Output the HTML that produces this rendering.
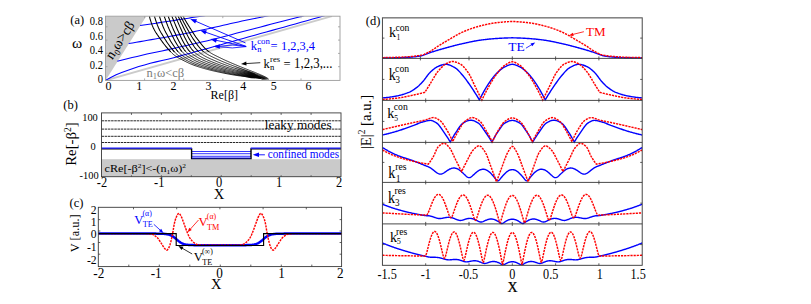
<!DOCTYPE html>
<html><head><meta charset="utf-8"><title>figure</title>
<style>
html,body{margin:0;padding:0;background:#fff;}
body{width:811px;height:304px;overflow:hidden;font-family:"Liberation Serif",serif;}
svg{display:block;position:absolute;left:0;top:0;}
</style></head><body>
<svg width="811" height="304" viewBox="0 0 811 304" font-family="'Liberation Serif', serif">
<clipPath id="ca"><rect x="105.5" y="16.2" width="234.5" height="64.2"/></clipPath>
<g clip-path="url(#ca)">
<polygon points="105.5,80.4 105.5,16.2 146.3,16.2" fill="#cacaca"/>
<line x1="105.5" y1="80.4" x2="332" y2="16.2" stroke="#cbcbcb" stroke-width="1.9" />
<path d="M105.5 80.4 L110.74 77.44 L116.15 74.84 L121.69 72.52 L127.32 70.41 L133.01 68.45 L138.73 66.62 L144.5 64.91 L150.29 63.32 L156.12 61.87 L161.98 60.51 L167.83 59.14 L173.66 57.66 L179.47 56.13 L185.27 54.56 L191.06 52.96 L196.86 51.36 L202.65 49.77 L208.44 48.17 L214.23 46.55 L220.02 44.93 L225.81 43.3 L231.59 41.67 L237.38 40.04 L243.16 38.41 L248.95 36.79 L254.74 35.18 L260.53 33.57 L266.32 31.97 L272.11 30.37 L277.91 28.76 L283.7 27.15 L289.49 25.54 L295.28 23.92 L301.06 22.3 L306.85 20.67 L312.63 19.05 L318.42 17.42 L324.21 15.81 L330 14.2" fill="none" stroke="#0000ff" stroke-width="1.05" />
<path d="M117.3 61.2 L122.24 59.98 L127.18 58.78 L132.13 57.59 L137.08 56.41 L142.03 55.23 L146.98 54.08 L151.95 52.97 L156.92 51.92 L161.91 50.9 L166.89 49.87 L171.86 48.79 L176.83 47.69 L181.79 46.58 L186.75 45.45 L191.71 44.31 L196.67 43.17 L201.62 42.03 L206.58 40.89 L211.53 39.71 L216.47 38.49 L221.4 37.24 L226.32 35.96 L231.24 34.66 L236.16 33.36 L241.08 32.05 L246 30.75 L250.92 29.46 L255.84 28.18 L260.77 26.9 L265.69 25.63 L270.62 24.35 L275.54 23.08 L280.46 21.8 L285.39 20.52 L290.31 19.25 L295.24 17.96 L300.16 16.68 L305.08 15.39 L310 14.1" fill="none" stroke="#0000ff" stroke-width="1.05" />
<path d="M128.7 43.6 L132.5 42.94 L136.29 42.28 L140.09 41.63 L143.88 40.97 L147.68 40.31 L151.47 39.64 L155.27 38.99 L159.06 38.34 L162.86 37.68 L166.65 37.01 L170.44 36.32 L174.23 35.61 L178.01 34.89 L181.79 34.15 L185.57 33.4 L189.35 32.65 L193.12 31.88 L196.9 31.11 L200.67 30.32 L204.44 29.52 L208.2 28.71 L211.96 27.87 L215.72 27.03 L219.48 26.17 L223.23 25.32 L226.99 24.46 L230.75 23.6 L234.5 22.75 L238.26 21.91 L242.02 21.08 L245.79 20.28 L249.56 19.49 L253.34 18.74 L257.12 18.01 L260.91 17.29 L264.69 16.56 L268.46 15.8 L272.23 15.01 L276 14.2" fill="none" stroke="#0000ff" stroke-width="1.05" />
<path d="M140.1 25.5 L141.9 25.25 L143.69 24.99 L145.49 24.73 L147.28 24.47 L149.07 24.21 L150.87 23.95 L152.66 23.69 L154.46 23.43 L156.25 23.16 L158.04 22.89 L159.84 22.62 L161.63 22.35 L163.42 22.08 L165.21 21.81 L167.01 21.53 L168.8 21.25 L170.59 20.97 L172.38 20.69 L174.17 20.41 L175.96 20.13 L177.76 19.85 L179.55 19.57 L181.34 19.29 L183.13 19.01 L184.92 18.73 L186.71 18.44 L188.5 18.16 L190.29 17.88 L192.08 17.59 L193.88 17.31 L195.67 17.02 L197.46 16.74 L199.25 16.46 L201.04 16.18 L202.83 15.9 L204.62 15.62 L206.42 15.35 L208.21 15.07 L210 14.8" fill="none" stroke="#0000ff" stroke-width="1.05" />
<path d="M149.4 16.1 L149.62 17.09 L149.86 18.07 L150.12 19.04 L150.4 20.01 L150.69 20.97 L151 21.92 L151.32 22.87 L151.66 23.81 L152 24.74 L152.36 25.67 L152.75 26.59 L153.16 27.51 L153.6 28.42 L154.05 29.32 L154.52 30.21 L155 31.08 L155.51 31.94 L156.04 32.79 L156.6 33.62 L157.16 34.45 L157.74 35.28 L158.32 36.1 L158.89 36.93 L159.45 37.75 L160.02 38.58 L160.59 39.41 L161.17 40.23 L161.75 41.05 L162.34 41.86 L162.93 42.66 L163.54 43.46 L164.15 44.25 L164.78 45.03 L165.41 45.81 L166.05 46.58 L166.7 47.35 L167.36 48.11 L168.02 48.86 L168.69 49.6 L169.37 50.34 L170.05 51.08 L170.74 51.82" fill="none" stroke="#000" stroke-width="1.05" />
<path d="M169.37 50.34 L170.05 51.08 L170.74 51.82 L171.43 52.55 L172.13 53.27 L172.86 53.96 L173.61 54.61 L174.39 55.22 L175.2 55.81 L176.04 56.38 L176.89 56.92 L177.74 57.45 L178.6 57.95 L179.48 58.44 L180.37 58.91 L181.26 59.37 L182.16 59.82 L183.05 60.28 L183.94 60.73 L184.84 61.19 L185.73 61.64 L186.63 62.09 L187.53 62.53 L188.44 62.95 L189.35 63.36 L190.27 63.75 L191.2 64.14 L192.13 64.52 L193.06 64.89 L194 65.24 L194.94 65.58 L195.89 65.91 L196.84 66.23 L197.79 66.55 L198.74 66.86 L199.7 67.16 L200.65 67.46 L201.62 67.75 L202.58 68.04 L203.54 68.32 L204.51 68.6 L205.47 68.87 L206.44 69.13 L207.41 69.39 L208.38 69.65 L209.35 69.89 L210.32 70.14 L211.29 70.38 L212.26 70.61 L213.24 70.84 L214.22 71.07 L215.2 71.29 L216.18 71.51 L217.16 71.72 L218.14 71.93 L219.12 72.14 L220.1 72.35 L221.08 72.55 L222.06 72.76 L223.04 72.96 L224.02 73.16 L225.01 73.36 L225.99 73.56 L226.98 73.75 L227.96 73.94 L228.94 74.13 L229.93 74.31 L230.92 74.49 L231.9 74.67 L232.89 74.84 L233.88 75 L234.87 75.16 L235.86 75.31 L236.85 75.46 L237.84 75.61 L238.83 75.75 L239.83 75.88 L240.82 76.02 L241.81 76.15 L242.81 76.28 L243.8 76.41 L244.8 76.54 L245.79 76.67 L246.79 76.8 L247.78 76.92 L248.78 77.04 L249.79 77.14 L250.81 77.24 L251.82 77.32 L252.84 77.41 L253.86 77.5 L254.87 77.59 L255.88 77.69 L256.88 77.81 L257.86 77.94 L258.83 78.1 L259.79 78.27 L260.72 78.48 L261.63 78.86 L262.5 79.4" fill="none" stroke="#000" stroke-width="0.85" />
<path d="M154.5 16.1 L154.74 17.04 L155 17.98 L155.28 18.91 L155.56 19.83 L155.85 20.75 L156.16 21.67 L156.47 22.57 L156.79 23.48 L157.12 24.38 L157.45 25.27 L157.81 26.16 L158.19 27.05 L158.58 27.93 L158.99 28.8 L159.41 29.66 L159.83 30.51 L160.28 31.35 L160.75 32.18 L161.24 33 L161.74 33.82 L162.24 34.63 L162.75 35.44 L163.24 36.26 L163.74 37.07 L164.23 37.89 L164.73 38.7 L165.23 39.52 L165.74 40.32 L166.26 41.13 L166.78 41.93 L167.31 42.72 L167.85 43.5 L168.4 44.28 L168.96 45.05 L169.53 45.82 L170.11 46.58 L170.7 47.34 L171.29 48.09 L171.89 48.84 L172.5 49.58 L173.11 50.32 L173.73 51.06 L174.36 51.8" fill="none" stroke="#000" stroke-width="1.05" />
<path d="M173.11 50.32 L173.73 51.06 L174.36 51.8 L175.01 52.52 L175.67 53.21 L176.36 53.87 L177.08 54.49 L177.83 55.09 L178.61 55.66 L179.4 56.22 L180.2 56.75 L181 57.27 L181.83 57.77 L182.67 58.24 L183.52 58.71 L184.37 59.17 L185.23 59.63 L186.09 60.09 L186.95 60.54 L187.82 60.99 L188.69 61.44 L189.58 61.87 L190.47 62.29 L191.37 62.69 L192.27 63.09 L193.18 63.48 L194.09 63.85 L195.01 64.22 L195.93 64.57 L196.86 64.91 L197.78 65.24 L198.71 65.57 L199.65 65.89 L200.58 66.2 L201.52 66.51 L202.46 66.81 L203.4 67.1 L204.34 67.39 L205.28 67.68 L206.23 67.96 L207.18 68.23 L208.12 68.5 L209.07 68.77 L210.02 69.03 L210.97 69.28 L211.92 69.53 L212.88 69.78 L213.83 70.02 L214.79 70.25 L215.75 70.49 L216.71 70.71 L217.66 70.94 L218.62 71.16 L219.59 71.38 L220.55 71.6 L221.51 71.81 L222.47 72.02 L223.43 72.24 L224.39 72.45 L225.36 72.65 L226.32 72.86 L227.28 73.06 L228.25 73.27 L229.21 73.47 L230.18 73.66 L231.14 73.85 L232.11 74.04 L233.08 74.23 L234.04 74.41 L235.01 74.58 L235.98 74.75 L236.95 74.91 L237.92 75.07 L238.89 75.23 L239.86 75.38 L240.84 75.53 L241.81 75.68 L242.78 75.83 L243.76 75.97 L244.73 76.11 L245.71 76.25 L246.68 76.39 L247.65 76.53 L248.63 76.68 L249.61 76.81 L250.59 76.93 L251.59 77.04 L252.58 77.15 L253.57 77.25 L254.57 77.36 L255.56 77.47 L256.54 77.59 L257.52 77.73 L258.48 77.88 L259.43 78.05 L260.36 78.25 L261.28 78.47 L262.15 78.86 L263 79.4" fill="none" stroke="#000" stroke-width="0.85" />
<path d="M159.4 16.1 L159.67 17 L159.95 17.89 L160.23 18.78 L160.52 19.67 L160.82 20.55 L161.12 21.42 L161.43 22.29 L161.74 23.16 L162.05 24.03 L162.37 24.89 L162.71 25.75 L163.06 26.6 L163.42 27.45 L163.79 28.29 L164.17 29.13 L164.55 29.96 L164.95 30.78 L165.37 31.59 L165.8 32.39 L166.24 33.19 L166.69 33.99 L167.13 34.79 L167.56 35.59 L168 36.39 L168.43 37.2 L168.87 38 L169.31 38.8 L169.76 39.6 L170.21 40.39 L170.67 41.18 L171.14 41.96 L171.63 42.74 L172.12 43.51 L172.62 44.27 L173.12 45.03 L173.64 45.79 L174.17 46.55 L174.7 47.3 L175.24 48.04 L175.79 48.78 L176.35 49.52 L176.92 50.26 L177.49 50.99 L178.08 51.71" fill="none" stroke="#000" stroke-width="1.05" />
<path d="M176.92 50.26 L177.49 50.99 L178.08 51.71 L178.69 52.41 L179.33 53.07 L179.99 53.7 L180.69 54.3 L181.41 54.89 L182.15 55.45 L182.89 55.99 L183.65 56.52 L184.43 57.02 L185.22 57.51 L186.03 57.98 L186.84 58.44 L187.66 58.9 L188.49 59.36 L189.32 59.81 L190.17 60.26 L191.02 60.7 L191.88 61.13 L192.75 61.55 L193.63 61.95 L194.52 62.34 L195.41 62.73 L196.31 63.1 L197.2 63.46 L198.11 63.82 L199.01 64.16 L199.92 64.49 L200.83 64.82 L201.74 65.14 L202.65 65.46 L203.57 65.77 L204.48 66.07 L205.4 66.37 L206.32 66.67 L207.24 66.96 L208.17 67.24 L209.09 67.52 L210.02 67.8 L210.95 68.07 L211.87 68.33 L212.8 68.59 L213.73 68.85 L214.66 69.1 L215.6 69.35 L216.53 69.59 L217.47 69.83 L218.4 70.07 L219.34 70.3 L220.28 70.53 L221.22 70.76 L222.15 70.99 L223.09 71.21 L224.03 71.43 L224.97 71.65 L225.91 71.87 L226.85 72.08 L227.79 72.3 L228.73 72.51 L229.68 72.72 L230.62 72.93 L231.56 73.14 L232.51 73.34 L233.45 73.54 L234.39 73.73 L235.34 73.92 L236.28 74.11 L237.23 74.29 L238.18 74.47 L239.13 74.64 L240.07 74.81 L241.02 74.98 L241.97 75.14 L242.92 75.3 L243.88 75.46 L244.83 75.62 L245.78 75.77 L246.73 75.93 L247.68 76.08 L248.63 76.24 L249.58 76.4 L250.53 76.55 L251.5 76.69 L252.46 76.82 L253.43 76.95 L254.4 77.07 L255.37 77.2 L256.33 77.33 L257.29 77.48 L258.24 77.63 L259.18 77.8 L260.1 78 L261.01 78.21 L261.89 78.46 L262.75 78.86 L263.57 79.4" fill="none" stroke="#000" stroke-width="0.85" />
<path d="M164.2 16.1 L164.49 16.96 L164.79 17.81 L165.09 18.66 L165.39 19.5 L165.69 20.34 L166 21.18 L166.3 22.02 L166.61 22.85 L166.91 23.68 L167.22 24.51 L167.54 25.33 L167.87 26.16 L168.2 26.98 L168.55 27.79 L168.89 28.6 L169.24 29.41 L169.6 30.2 L169.98 30.99 L170.36 31.78 L170.75 32.56 L171.14 33.35 L171.53 34.13 L171.92 34.92 L172.3 35.71 L172.69 36.5 L173.08 37.29 L173.47 38.07 L173.86 38.86 L174.26 39.64 L174.67 40.41 L175.09 41.18 L175.52 41.95 L175.96 42.71 L176.41 43.46 L176.86 44.21 L177.33 44.97 L177.8 45.71 L178.29 46.46 L178.78 47.2 L179.28 47.94 L179.79 48.67 L180.3 49.41 L180.83 50.13 L181.37 50.85 L181.94 51.54" fill="none" stroke="#000" stroke-width="1.05" />
<path d="M180.83 50.13 L181.37 50.85 L181.94 51.54 L182.53 52.21 L183.14 52.84 L183.79 53.45 L184.46 54.04 L185.14 54.61 L185.84 55.16 L186.55 55.69 L187.29 56.2 L188.03 56.69 L188.8 57.17 L189.57 57.63 L190.35 58.1 L191.15 58.55 L191.95 59.01 L192.77 59.45 L193.6 59.89 L194.44 60.31 L195.29 60.73 L196.15 61.12 L197.02 61.51 L197.89 61.89 L198.76 62.27 L199.64 62.63 L200.52 62.98 L201.41 63.32 L202.29 63.66 L203.18 63.99 L204.06 64.31 L204.95 64.63 L205.84 64.95 L206.73 65.26 L207.63 65.56 L208.53 65.86 L209.42 66.16 L210.32 66.45 L211.22 66.73 L212.13 67.01 L213.03 67.29 L213.93 67.56 L214.84 67.83 L215.74 68.09 L216.65 68.35 L217.56 68.6 L218.47 68.86 L219.38 69.1 L220.29 69.35 L221.2 69.59 L222.11 69.83 L223.03 70.07 L223.94 70.31 L224.85 70.54 L225.77 70.77 L226.68 71 L227.6 71.22 L228.51 71.45 L229.43 71.68 L230.35 71.9 L231.27 72.12 L232.18 72.34 L233.1 72.55 L234.02 72.77 L234.94 72.98 L235.86 73.18 L236.78 73.39 L237.7 73.59 L238.62 73.78 L239.54 73.97 L240.46 74.16 L241.39 74.34 L242.31 74.52 L243.24 74.7 L244.16 74.88 L245.09 75.05 L246.01 75.22 L246.94 75.4 L247.86 75.57 L248.79 75.74 L249.71 75.92 L250.64 76.09 L251.56 76.26 L252.5 76.42 L253.43 76.57 L254.37 76.73 L255.31 76.88 L256.25 77.03 L257.19 77.18 L258.12 77.35 L259.04 77.53 L259.95 77.72 L260.85 77.94 L261.73 78.18 L262.58 78.45 L263.41 78.86 L264.2 79.4" fill="none" stroke="#000" stroke-width="0.85" />
<path d="M168.1 16.1 L168.41 16.92 L168.72 17.74 L169.04 18.56 L169.35 19.37 L169.66 20.18 L169.97 20.99 L170.28 21.79 L170.59 22.59 L170.9 23.4 L171.21 24.2 L171.52 24.99 L171.84 25.79 L172.16 26.59 L172.49 27.38 L172.82 28.16 L173.16 28.95 L173.5 29.72 L173.85 30.49 L174.21 31.27 L174.57 32.03 L174.93 32.8 L175.29 33.57 L175.65 34.34 L176.01 35.12 L176.37 35.89 L176.72 36.67 L177.09 37.44 L177.45 38.21 L177.83 38.98 L178.21 39.74 L178.6 40.49 L179 41.24 L179.41 41.99 L179.83 42.73 L180.26 43.47 L180.69 44.21 L181.13 44.95 L181.59 45.69 L182.05 46.42 L182.52 47.15 L183 47.88 L183.49 48.6 L183.98 49.32 L184.5 50.03 L185.03 50.72 L185.59 51.38" fill="none" stroke="#000" stroke-width="1.05" />
<path d="M184.5 50.03 L185.03 50.72 L185.59 51.38 L186.17 52.02 L186.78 52.63 L187.41 53.22 L188.06 53.8 L188.72 54.35 L189.4 54.89 L190.09 55.4 L190.81 55.89 L191.53 56.37 L192.28 56.84 L193.03 57.3 L193.8 57.75 L194.58 58.2 L195.37 58.64 L196.18 59.08 L197 59.5 L197.83 59.9 L198.67 60.3 L199.51 60.68 L200.36 61.06 L201.22 61.43 L202.08 61.79 L202.94 62.15 L203.8 62.49 L204.66 62.82 L205.53 63.16 L206.39 63.48 L207.25 63.81 L208.12 64.13 L208.99 64.44 L209.86 64.75 L210.73 65.06 L211.6 65.36 L212.48 65.65 L213.35 65.94 L214.23 66.23 L215.11 66.51 L215.99 66.79 L216.87 67.06 L217.75 67.33 L218.63 67.6 L219.52 67.86 L220.4 68.12 L221.29 68.38 L222.17 68.63 L223.06 68.88 L223.95 69.13 L224.84 69.38 L225.73 69.62 L226.62 69.87 L227.51 70.11 L228.4 70.34 L229.29 70.58 L230.18 70.82 L231.07 71.05 L231.96 71.28 L232.85 71.51 L233.75 71.74 L234.64 71.97 L235.53 72.19 L236.43 72.42 L237.32 72.64 L238.22 72.85 L239.11 73.06 L240.01 73.27 L240.9 73.48 L241.8 73.68 L242.7 73.87 L243.6 74.07 L244.5 74.26 L245.4 74.45 L246.3 74.64 L247.2 74.83 L248.1 75.02 L249 75.21 L249.9 75.4 L250.8 75.59 L251.69 75.78 L252.59 75.97 L253.5 76.15 L254.41 76.33 L255.31 76.5 L256.23 76.68 L257.14 76.85 L258.05 77.03 L258.95 77.22 L259.84 77.42 L260.73 77.64 L261.59 77.88 L262.44 78.14 L263.27 78.43 L264.06 78.86 L264.83 79.4" fill="none" stroke="#000" stroke-width="0.85" />
<path d="M171.8 16.1 L172.13 16.89 L172.46 17.68 L172.79 18.46 L173.11 19.24 L173.44 20.02 L173.76 20.8 L174.08 21.58 L174.4 22.35 L174.71 23.12 L175.02 23.9 L175.34 24.67 L175.66 25.44 L175.98 26.21 L176.31 26.97 L176.63 27.74 L176.96 28.5 L177.29 29.25 L177.63 30.01 L177.97 30.76 L178.32 31.51 L178.66 32.27 L179.01 33.02 L179.35 33.78 L179.69 34.53 L180.03 35.29 L180.38 36.05 L180.72 36.8 L181.07 37.55 L181.43 38.3 L181.8 39.05 L182.17 39.79 L182.55 40.52 L182.94 41.25 L183.35 41.98 L183.76 42.71 L184.17 43.43 L184.6 44.16 L185.03 44.88 L185.47 45.61 L185.92 46.32 L186.38 47.04 L186.85 47.76 L187.33 48.47 L187.82 49.16 L188.33 49.85 L188.86 50.5 L189.42 51.13 L190 51.75" fill="none" stroke="#000" stroke-width="1.05" />
<path d="M188.86 50.5 L189.42 51.13 L190 51.75 L190.6 52.34 L191.21 52.92 L191.85 53.47 L192.49 54.01 L193.15 54.52 L193.83 55.02 L194.53 55.49 L195.24 55.96 L195.97 56.42 L196.71 56.87 L197.46 57.32 L198.23 57.75 L199.01 58.18 L199.81 58.59 L200.62 59 L201.44 59.39 L202.26 59.77 L203.09 60.14 L203.92 60.51 L204.76 60.87 L205.59 61.23 L206.43 61.57 L207.27 61.91 L208.11 62.24 L208.95 62.57 L209.78 62.9 L210.62 63.23 L211.46 63.55 L212.31 63.86 L213.15 64.17 L214 64.48 L214.85 64.78 L215.7 65.07 L216.55 65.37 L217.4 65.65 L218.25 65.94 L219.11 66.22 L219.96 66.5 L220.82 66.77 L221.67 67.04 L222.53 67.31 L223.39 67.58 L224.25 67.84 L225.11 68.11 L225.97 68.36 L226.83 68.62 L227.69 68.88 L228.55 69.13 L229.42 69.38 L230.28 69.63 L231.14 69.87 L232.01 70.12 L232.87 70.37 L233.74 70.61 L234.6 70.85 L235.47 71.09 L236.33 71.33 L237.2 71.57 L238.07 71.8 L238.93 72.03 L239.8 72.26 L240.67 72.49 L241.54 72.71 L242.4 72.93 L243.27 73.15 L244.15 73.36 L245.02 73.57 L245.89 73.78 L246.76 73.99 L247.63 74.19 L248.51 74.4 L249.38 74.61 L250.25 74.81 L251.12 75.02 L251.99 75.23 L252.86 75.44 L253.73 75.65 L254.6 75.86 L255.48 76.06 L256.35 76.26 L257.23 76.46 L258.11 76.66 L258.99 76.86 L259.86 77.08 L260.73 77.31 L261.58 77.55 L262.41 77.81 L263.23 78.1 L264.03 78.42 L264.79 78.86 L265.52 79.4" fill="none" stroke="#000" stroke-width="0.85" />
<path d="M175.2 16.1 L175.55 16.86 L175.89 17.62 L176.24 18.37 L176.58 19.12 L176.91 19.88 L177.25 20.63 L177.58 21.38 L177.91 22.13 L178.23 22.87 L178.55 23.62 L178.87 24.37 L179.2 25.11 L179.52 25.86 L179.85 26.6 L180.18 27.34 L180.5 28.08 L180.83 28.82 L181.16 29.55 L181.5 30.29 L181.84 31.03 L182.17 31.76 L182.51 32.5 L182.84 33.24 L183.17 33.98 L183.51 34.72 L183.84 35.46 L184.18 36.2 L184.52 36.93 L184.87 37.66 L185.23 38.39 L185.59 39.12 L185.97 39.83 L186.35 40.55 L186.74 41.25 L187.14 41.96 L187.55 42.68 L187.96 43.39 L188.38 44.1 L188.81 44.81 L189.25 45.52 L189.69 46.22 L190.15 46.92 L190.61 47.62 L191.09 48.31 L191.58 48.98 L192.09 49.63 L192.63 50.26 L193.18 50.87 L193.75 51.47" fill="none" stroke="#000" stroke-width="1.05" />
<path d="M192.63 50.26 L193.18 50.87 L193.75 51.47 L194.34 52.04 L194.95 52.6 L195.56 53.13 L196.2 53.65 L196.85 54.15 L197.51 54.62 L198.2 55.09 L198.9 55.55 L199.61 55.99 L200.34 56.43 L201.09 56.86 L201.85 57.28 L202.62 57.69 L203.41 58.09 L204.2 58.48 L205.01 58.86 L205.81 59.23 L206.62 59.59 L207.43 59.95 L208.25 60.31 L209.06 60.65 L209.88 60.99 L210.69 61.33 L211.5 61.66 L212.31 62 L213.13 62.33 L213.94 62.65 L214.76 62.97 L215.57 63.28 L216.39 63.59 L217.22 63.9 L218.04 64.2 L218.86 64.5 L219.69 64.8 L220.52 65.09 L221.34 65.38 L222.17 65.66 L223 65.95 L223.83 66.23 L224.66 66.5 L225.49 66.78 L226.32 67.05 L227.16 67.33 L227.99 67.6 L228.82 67.86 L229.66 68.13 L230.49 68.39 L231.33 68.65 L232.16 68.91 L233 69.17 L233.84 69.42 L234.67 69.68 L235.51 69.93 L236.35 70.19 L237.19 70.44 L238.03 70.69 L238.87 70.94 L239.71 71.18 L240.54 71.43 L241.38 71.67 L242.22 71.91 L243.06 72.15 L243.9 72.39 L244.75 72.62 L245.59 72.84 L246.43 73.07 L247.28 73.3 L248.12 73.52 L248.97 73.74 L249.81 73.97 L250.65 74.19 L251.5 74.42 L252.34 74.64 L253.18 74.87 L254.02 75.1 L254.86 75.33 L255.7 75.56 L256.55 75.79 L257.39 76.01 L258.24 76.24 L259.09 76.47 L259.93 76.7 L260.78 76.94 L261.61 77.19 L262.43 77.46 L263.23 77.75 L264.02 78.06 L264.78 78.4 L265.51 78.86 L266.22 79.4" fill="none" stroke="#000" stroke-width="0.85" />
<path d="M178 16.1 L178.36 16.83 L178.73 17.57 L179.09 18.3 L179.45 19.03 L179.8 19.76 L180.16 20.48 L180.51 21.21 L180.86 21.94 L181.2 22.66 L181.55 23.39 L181.9 24.11 L182.24 24.83 L182.59 25.55 L182.94 26.28 L183.29 26.99 L183.64 27.71 L183.99 28.43 L184.35 29.14 L184.7 29.86 L185.06 30.58 L185.41 31.3 L185.77 32.01 L186.12 32.73 L186.47 33.45 L186.83 34.17 L187.19 34.89 L187.55 35.61 L187.91 36.32 L188.29 37.03 L188.66 37.73 L189.05 38.43 L189.44 39.13 L189.84 39.82 L190.25 40.5 L190.67 41.19 L191.09 41.88 L191.52 42.57 L191.95 43.27 L192.39 43.96 L192.84 44.64 L193.3 45.33 L193.76 46.01 L194.23 46.69 L194.72 47.36 L195.21 48.02 L195.73 48.65 L196.25 49.28 L196.8 49.88 L197.36 50.47 L197.93 51.04 L198.52 51.59" fill="none" stroke="#000" stroke-width="1.05" />
<path d="M197.36 50.47 L197.93 51.04 L198.52 51.59 L199.12 52.12 L199.73 52.64 L200.36 53.13 L201 53.61 L201.66 54.07 L202.34 54.52 L203.03 54.96 L203.74 55.39 L204.46 55.81 L205.2 56.23 L205.95 56.63 L206.71 57.02 L207.48 57.4 L208.25 57.78 L209.03 58.15 L209.82 58.51 L210.6 58.87 L211.39 59.22 L212.17 59.56 L212.96 59.91 L213.74 60.25 L214.53 60.59 L215.3 60.93 L216.08 61.26 L216.87 61.59 L217.65 61.91 L218.44 62.24 L219.23 62.55 L220.02 62.87 L220.81 63.18 L221.6 63.48 L222.4 63.79 L223.19 64.09 L223.99 64.38 L224.78 64.68 L225.58 64.97 L226.38 65.26 L227.18 65.55 L227.98 65.84 L228.78 66.12 L229.58 66.41 L230.38 66.69 L231.18 66.97 L231.98 67.24 L232.78 67.52 L233.59 67.79 L234.39 68.06 L235.19 68.33 L236 68.6 L236.8 68.87 L237.61 69.13 L238.42 69.4 L239.22 69.67 L240.03 69.93 L240.83 70.19 L241.64 70.45 L242.45 70.71 L243.25 70.97 L244.06 71.23 L244.87 71.49 L245.68 71.74 L246.49 71.99 L247.3 72.24 L248.11 72.48 L248.92 72.73 L249.73 72.97 L250.54 73.21 L251.35 73.46 L252.16 73.7 L252.97 73.95 L253.78 74.2 L254.59 74.45 L255.39 74.7 L256.2 74.96 L257.01 75.21 L257.81 75.47 L258.62 75.73 L259.43 75.98 L260.24 76.24 L261.05 76.5 L261.85 76.77 L262.65 77.05 L263.44 77.35 L264.2 77.67 L264.95 78.01 L265.68 78.39 L266.37 78.86 L267.04 79.4" fill="none" stroke="#000" stroke-width="0.85" />
<path d="M180.4 16.1 L180.78 16.81 L181.16 17.52 L181.54 18.24 L181.91 18.94 L182.29 19.65 L182.67 20.36 L183.05 21.07 L183.43 21.77 L183.81 22.48 L184.19 23.18 L184.57 23.88 L184.95 24.58 L185.34 25.28 L185.72 25.98 L186.11 26.68 L186.49 27.38 L186.88 28.07 L187.27 28.77 L187.66 29.46 L188.05 30.16 L188.45 30.86 L188.84 31.56 L189.23 32.25 L189.62 32.95 L190.01 33.65 L190.41 34.34 L190.81 35.03 L191.22 35.72 L191.63 36.41 L192.04 37.09 L192.47 37.76 L192.9 38.43 L193.33 39.09 L193.78 39.75 L194.23 40.41 L194.68 41.08 L195.14 41.74 L195.6 42.41 L196.07 43.08 L196.55 43.74 L197.03 44.41 L197.52 45.07 L198.01 45.72 L198.51 46.37 L199.02 47 L199.54 47.63 L200.08 48.24 L200.62 48.83 L201.18 49.41 L201.75 49.97 L202.32 50.52 L202.91 51.05 L203.51 51.56" fill="none" stroke="#000" stroke-width="1.05" />
<path d="M202.32 50.52 L202.91 51.05 L203.51 51.56 L204.12 52.05 L204.74 52.52 L205.38 52.97 L206.03 53.41 L206.71 53.85 L207.39 54.27 L208.09 54.69 L208.8 55.09 L209.53 55.48 L210.26 55.87 L211 56.25 L211.75 56.62 L212.5 56.98 L213.25 57.34 L214.01 57.7 L214.77 58.05 L215.53 58.39 L216.28 58.74 L217.03 59.08 L217.78 59.43 L218.52 59.77 L219.27 60.11 L220.02 60.45 L220.77 60.78 L221.52 61.11 L222.28 61.43 L223.03 61.75 L223.79 62.07 L224.55 62.38 L225.31 62.7 L226.07 63 L226.83 63.31 L227.6 63.62 L228.36 63.92 L229.12 64.22 L229.89 64.52 L230.65 64.82 L231.42 65.12 L232.18 65.41 L232.95 65.71 L233.71 66 L234.48 66.29 L235.25 66.58 L236.02 66.86 L236.79 67.15 L237.56 67.43 L238.33 67.71 L239.1 68 L239.87 68.28 L240.64 68.55 L241.41 68.83 L242.18 69.11 L242.96 69.39 L243.73 69.67 L244.5 69.95 L245.27 70.22 L246.04 70.5 L246.81 70.78 L247.59 71.05 L248.36 71.31 L249.14 71.58 L249.91 71.85 L250.69 72.11 L251.46 72.38 L252.24 72.64 L253.02 72.91 L253.79 73.17 L254.56 73.44 L255.34 73.72 L256.11 73.99 L256.87 74.27 L257.64 74.55 L258.41 74.84 L259.17 75.12 L259.94 75.42 L260.71 75.7 L261.48 75.99 L262.25 76.29 L263.02 76.59 L263.77 76.91 L264.52 77.24 L265.25 77.59 L265.96 77.96 L266.64 78.37 L267.29 78.85 L267.92 79.4" fill="none" stroke="#000" stroke-width="0.85" />
<path d="M182.9 16.1 L183.29 16.79 L183.69 17.48 L184.09 18.17 L184.48 18.86 L184.89 19.55 L185.29 20.23 L185.7 20.92 L186.1 21.6 L186.51 22.28 L186.92 22.96 L187.34 23.64 L187.75 24.32 L188.17 25 L188.59 25.68 L189.01 26.36 L189.43 27.03 L189.86 27.71 L190.28 28.38 L190.71 29.06 L191.13 29.73 L191.55 30.41 L191.98 31.09 L192.4 31.77 L192.83 32.44 L193.26 33.11 L193.7 33.78 L194.14 34.45 L194.58 35.12 L195.02 35.77 L195.48 36.43 L195.93 37.08 L196.4 37.72 L196.87 38.36 L197.35 38.99 L197.83 39.62 L198.31 40.26 L198.8 40.91 L199.29 41.55 L199.78 42.2 L200.28 42.84 L200.78 43.48 L201.29 44.12 L201.8 44.75 L202.32 45.37 L202.85 45.99 L203.38 46.59 L203.91 47.19 L204.46 47.78 L205.01 48.35 L205.57 48.9 L206.13 49.45 L206.7 49.97 L207.29 50.47 L207.88 50.96 L208.48 51.42 L209.1 51.87" fill="none" stroke="#000" stroke-width="1.05" />
<path d="M207.29 50.47 L207.88 50.96 L208.48 51.42 L209.1 51.87 L209.73 52.31 L210.38 52.74 L211.05 53.15 L211.72 53.56 L212.41 53.95 L213.11 54.34 L213.81 54.72 L214.52 55.09 L215.24 55.45 L215.97 55.82 L216.69 56.17 L217.42 56.53 L218.15 56.88 L218.88 57.22 L219.6 57.57 L220.32 57.92 L221.04 58.27 L221.75 58.62 L222.46 58.96 L223.17 59.31 L223.89 59.64 L224.61 59.98 L225.33 60.31 L226.05 60.64 L226.77 60.96 L227.5 61.28 L228.22 61.6 L228.95 61.92 L229.68 62.24 L230.41 62.55 L231.14 62.87 L231.87 63.18 L232.6 63.49 L233.33 63.8 L234.06 64.11 L234.79 64.42 L235.52 64.73 L236.25 65.03 L236.98 65.34 L237.71 65.64 L238.45 65.94 L239.18 66.24 L239.92 66.53 L240.66 66.83 L241.39 67.12 L242.13 67.42 L242.86 67.71 L243.6 68 L244.34 68.3 L245.08 68.59 L245.81 68.88 L246.55 69.18 L247.28 69.47 L248.02 69.77 L248.76 70.06 L249.5 70.35 L250.23 70.64 L250.98 70.93 L251.72 71.21 L252.46 71.5 L253.2 71.78 L253.94 72.07 L254.68 72.36 L255.42 72.65 L256.15 72.94 L256.89 73.24 L257.62 73.54 L258.35 73.84 L259.08 74.15 L259.81 74.46 L260.53 74.78 L261.26 75.1 L261.99 75.43 L262.72 75.75 L263.45 76.08 L264.18 76.41 L264.9 76.76 L265.6 77.12 L266.29 77.51 L266.96 77.91 L267.61 78.35 L268.21 78.85 L268.8 79.4" fill="none" stroke="#000" stroke-width="0.85" />
<linearGradient id="wg" gradientUnits="userSpaceOnUse" x1="234" y1="0" x2="251" y2="0"><stop offset="0" stop-color="#000" stop-opacity="0"/><stop offset="1" stop-color="#000" stop-opacity="0.92"/></linearGradient>
<polygon points="234,65.6 254.2,73.2 263.8,78.7 251,78.2 234,74.6" fill="url(#wg)"/>
</g>
<rect x="105.5" y="16.2" width="234.5" height="64.2" fill="none" stroke="#9a9a9a" stroke-width="0.9"/>
<line x1="144.6" y1="80.4" x2="144.6" y2="78.4" stroke="#9a9a9a" stroke-width="0.8" />
<line x1="144.6" y1="16.2" x2="144.6" y2="18.2" stroke="#9a9a9a" stroke-width="0.8" />
<line x1="183.7" y1="80.4" x2="183.7" y2="78.4" stroke="#9a9a9a" stroke-width="0.8" />
<line x1="183.7" y1="16.2" x2="183.7" y2="18.2" stroke="#9a9a9a" stroke-width="0.8" />
<line x1="222.8" y1="80.4" x2="222.8" y2="78.4" stroke="#9a9a9a" stroke-width="0.8" />
<line x1="222.8" y1="16.2" x2="222.8" y2="18.2" stroke="#9a9a9a" stroke-width="0.8" />
<line x1="261.9" y1="80.4" x2="261.9" y2="78.4" stroke="#9a9a9a" stroke-width="0.8" />
<line x1="261.9" y1="16.2" x2="261.9" y2="18.2" stroke="#9a9a9a" stroke-width="0.8" />
<line x1="301" y1="80.4" x2="301" y2="78.4" stroke="#9a9a9a" stroke-width="0.8" />
<line x1="301" y1="16.2" x2="301" y2="18.2" stroke="#9a9a9a" stroke-width="0.8" />
<line x1="105.5" y1="66.7" x2="107.5" y2="66.7" stroke="#9a9a9a" stroke-width="0.8" />
<line x1="340" y1="66.7" x2="338" y2="66.7" stroke="#9a9a9a" stroke-width="0.8" />
<line x1="105.5" y1="53.4" x2="107.5" y2="53.4" stroke="#9a9a9a" stroke-width="0.8" />
<line x1="340" y1="53.4" x2="338" y2="53.4" stroke="#9a9a9a" stroke-width="0.8" />
<line x1="105.5" y1="40.1" x2="107.5" y2="40.1" stroke="#9a9a9a" stroke-width="0.8" />
<line x1="340" y1="40.1" x2="338" y2="40.1" stroke="#9a9a9a" stroke-width="0.8" />
<line x1="105.5" y1="26.8" x2="107.5" y2="26.8" stroke="#9a9a9a" stroke-width="0.8" />
<line x1="340" y1="26.8" x2="338" y2="26.8" stroke="#9a9a9a" stroke-width="0.8" />
<line x1="245.5" y1="42.9" x2="195.16" y2="21.01" stroke="#0000ff" stroke-width="0.9" />
<polygon points="190.3,18.9 196.99,19.3 195.16,23.52" fill="#0000ff"/>
<line x1="246" y1="46.3" x2="205.1" y2="32.04" stroke="#0000ff" stroke-width="0.9" />
<polygon points="200.1,30.3 206.81,30.2 205.29,34.55" fill="#0000ff"/>
<line x1="246.2" y1="46.6" x2="215.49" y2="40.18" stroke="#0000ff" stroke-width="0.9" />
<polygon points="210.3,39.1 216.94,38.14 216,42.64" fill="#0000ff"/>
<path d="M246.2 46.6 Q232 43.6 219 46.3 M246.2 46.6 Q232 49.2 219 46.7" fill="none" stroke="#0000ff" stroke-width="0.8"/>
<polygon points="213.3,46.5 219.8,44.3 219.8,48.7" fill="#0000ff"/>
<line x1="260.3" y1="62.7" x2="245.39" y2="63.63" stroke="#000" stroke-width="0.8" />
<polygon points="241,63.9 246.27,61.57 246.51,65.56" fill="#000"/>
<text x="70.3" y="24.2" font-size="12.5" fill="#000" text-anchor="start" >(a)</text>
<text transform="translate(102.9,25.2) scale(1.0,1.13)" font-size="10.5" fill="#000" text-anchor="end" >0.8</text>
<text transform="translate(102.9,39.7) scale(1.0,1.13)" font-size="10.5" fill="#000" text-anchor="end" >0.6</text>
<text transform="translate(102.9,54.2) scale(1.0,1.13)" font-size="10.5" fill="#000" text-anchor="end" >0.4</text>
<text transform="translate(102.9,68.6) scale(1.0,1.13)" font-size="10.5" fill="#000" text-anchor="end" >0.2</text>
<text transform="translate(102.9,83.1) scale(1.0,1.13)" font-size="10.5" fill="#000" text-anchor="end" >0</text>
<text transform="translate(108.4,90) scale(1.0,1.06)" font-size="12" fill="#000" text-anchor="middle" >0</text>
<text transform="translate(139.2,90) scale(1.0,1.06)" font-size="12" fill="#000" text-anchor="middle" >1</text>
<text transform="translate(173.6,90) scale(1.0,1.06)" font-size="12" fill="#000" text-anchor="middle" >2</text>
<text transform="translate(208.5,90) scale(1.0,1.06)" font-size="12" fill="#000" text-anchor="middle" >3</text>
<text transform="translate(243.3,90) scale(1.0,1.06)" font-size="12" fill="#000" text-anchor="middle" >4</text>
<text transform="translate(273.8,90) scale(1.0,1.06)" font-size="12" fill="#000" text-anchor="middle" >5</text>
<text transform="translate(308.5,90) scale(1.0,1.06)" font-size="12" fill="#000" text-anchor="middle" >6</text>
<text x="77" y="47.8" font-size="15.5" fill="#000" text-anchor="middle" >&#969;</text>
<text x="224.3" y="98.6" font-size="12" fill="#000" text-anchor="middle" >Re[&#946;]</text>
<g transform="translate(112.3,60.2) rotate(-57)"><text x="0" y="0" font-size="14">n</text><text x="7" y="3" font-size="9">0</text><text x="11.5" y="0" font-size="14">&#969;&gt;c&#946;</text></g>
<g fill="#7a7a7a"><text x="146.6" y="76.8" font-size="12.5">n</text><text x="152.8" y="79.3" font-size="8.5">1</text><text x="157" y="76.8" font-size="12.5">&#969;&lt;c&#946;</text></g>
<g fill="#0000ff"><text x="250.7" y="49.5" font-size="12.5">k</text><text x="257.2" y="44.0" font-size="8.8">con</text><text x="257.2" y="51.6" font-size="8.6">n</text><text x="270.4" y="49.5" font-size="12.5">=</text><text transform="translate(281.0,49.5) scale(1,1.06)" font-size="12.4">1,2,3,4</text></g>
<g fill="#000"><text x="263.6" y="68.0" font-size="12.5">k</text><text x="270.1" y="62.2" font-size="8.6">res</text><text x="270.1" y="70.3" font-size="8.6">n</text><text x="283.6" y="68.0" font-size="12.5">=</text><text transform="translate(294.1,68.0) scale(1,1.06)" font-size="12.8">1,2,3,...</text></g>
<rect x="101.5" y="159.2" width="239.5" height="17.5" fill="#cacaca"/>
<line x1="101.5" y1="120.8" x2="341" y2="120.8" stroke="#000" stroke-width="0.85" stroke-dasharray="2.5 0.7" />
<line x1="101.5" y1="129.1" x2="341" y2="129.1" stroke="#000" stroke-width="0.85" stroke-dasharray="2.5 0.7" />
<line x1="101.5" y1="136.3" x2="341" y2="136.3" stroke="#000" stroke-width="0.85" stroke-dasharray="2.5 0.7" />
<line x1="101.5" y1="142.5" x2="341" y2="142.5" stroke="#000" stroke-width="0.85" stroke-dasharray="2.5 0.7" />
<line x1="191.6" y1="151.5" x2="251" y2="151.5" stroke="#0000ff" stroke-width="0.8" />
<line x1="191.6" y1="153.7" x2="251" y2="153.7" stroke="#0000ff" stroke-width="0.8" />
<line x1="191.6" y1="156.3" x2="251" y2="156.3" stroke="#0000ff" stroke-width="0.8" />
<path d="M101.5 148.9 L191.6 148.9 L191.6 158.6 L251.0 158.6 L251.0 148.9 L341 148.9" fill="none" stroke="#000" stroke-width="1.4"/>
<path d="M101.5 148.1 L191.9 148.1 M250.7 148.1 L341 148.1 M192 158.0 L250.6 158.0" fill="none" stroke="#1a1aff" stroke-width="1.1"/>
<rect x="101.5" y="112.9" width="239.5" height="63.8" fill="none" stroke="#3a3a3a" stroke-width="0.9"/>
<line x1="131.44" y1="112.9" x2="131.44" y2="114.9" stroke="#3a3a3a" stroke-width="0.8" />
<line x1="131.44" y1="176.7" x2="131.44" y2="175.2" stroke="#3a3a3a" stroke-width="0.7" />
<line x1="161.38" y1="112.9" x2="161.38" y2="114.9" stroke="#3a3a3a" stroke-width="0.8" />
<line x1="161.38" y1="176.7" x2="161.38" y2="175.2" stroke="#3a3a3a" stroke-width="0.7" />
<line x1="191.32" y1="112.9" x2="191.32" y2="114.9" stroke="#3a3a3a" stroke-width="0.8" />
<line x1="191.32" y1="176.7" x2="191.32" y2="175.2" stroke="#3a3a3a" stroke-width="0.7" />
<line x1="221.26" y1="112.9" x2="221.26" y2="114.9" stroke="#3a3a3a" stroke-width="0.8" />
<line x1="221.26" y1="176.7" x2="221.26" y2="175.2" stroke="#3a3a3a" stroke-width="0.7" />
<line x1="251.2" y1="112.9" x2="251.2" y2="114.9" stroke="#3a3a3a" stroke-width="0.8" />
<line x1="251.2" y1="176.7" x2="251.2" y2="175.2" stroke="#3a3a3a" stroke-width="0.7" />
<line x1="281.14" y1="112.9" x2="281.14" y2="114.9" stroke="#3a3a3a" stroke-width="0.8" />
<line x1="281.14" y1="176.7" x2="281.14" y2="175.2" stroke="#3a3a3a" stroke-width="0.7" />
<line x1="311.08" y1="112.9" x2="311.08" y2="114.9" stroke="#3a3a3a" stroke-width="0.8" />
<line x1="311.08" y1="176.7" x2="311.08" y2="175.2" stroke="#3a3a3a" stroke-width="0.7" />
<line x1="264.9" y1="154.8" x2="258" y2="154.8" stroke="#0000ff" stroke-width="0.9" />
<polygon points="252.8,154.8 259,152.5 259,157.1" fill="#0000ff"/>
<text x="63.3" y="109.3" font-size="12.5" fill="#000" text-anchor="start" >(b)</text>
<text x="97.8" y="120.9" font-size="10.4" fill="#000" text-anchor="end" >100</text>
<text x="95.7" y="149.8" font-size="10.4" fill="#000" text-anchor="end" >0</text>
<text x="98.6" y="178.9" font-size="10.4" fill="#000" text-anchor="end" >-100</text>
<text transform="translate(102,187.3) scale(1.0,1.14)" font-size="12.4" fill="#000" text-anchor="middle" >-2</text>
<text transform="translate(159.2,187.3) scale(1.0,1.14)" font-size="12.4" fill="#000" text-anchor="middle" >-1</text>
<text transform="translate(219.1,187.3) scale(1.0,1.14)" font-size="12.4" fill="#000" text-anchor="middle" >0</text>
<text transform="translate(279.2,187.3) scale(1.0,1.14)" font-size="12.4" fill="#000" text-anchor="middle" >1</text>
<text transform="translate(339,187.3) scale(1.0,1.14)" font-size="12.4" fill="#000" text-anchor="middle" >2</text>
<text x="219" y="199.2" font-size="14.6" fill="#000" text-anchor="middle" >X</text>
<text x="264.8" y="129" font-size="13.2" fill="#000" text-anchor="start" textLength="66.8" lengthAdjust="spacingAndGlyphs">leaky modes</text>
<text x="267.8" y="158" font-size="12.4" fill="#0000ff" text-anchor="start" textLength="71.2" lengthAdjust="spacingAndGlyphs">confined modes</text>
<text x="104.5" y="172.2" font-size="11.2" textLength="81.5" lengthAdjust="spacingAndGlyphs">cRe[-&#946;<tspan font-size="6.8" dy="-4.5">2</tspan><tspan dy="4.5">]&lt;-(n</tspan><tspan font-size="6.8" dy="2">1</tspan><tspan dy="-2">&#969;)</tspan><tspan font-size="6.8" dy="-4.5">2</tspan></text>
<text transform="translate(76.2,144) rotate(-90)" font-size="14.8" text-anchor="middle">Re[-&#946;<tspan font-size="9.5" dy="-5.5">2</tspan><tspan dy="5.5">]</tspan></text>
<path d="M98.3 233.6 L98.98 233.6 L99.66 233.6 L100.33 233.6 L101.01 233.6 L101.69 233.6 L102.37 233.6 L103.04 233.6 L103.72 233.6 L104.4 233.6 L105.08 233.6 L105.75 233.6 L106.43 233.6 L107.11 233.6 L107.79 233.6 L108.47 233.6 L109.14 233.6 L109.82 233.6 L110.5 233.6 L111.18 233.6 L111.85 233.6 L112.53 233.6 L113.21 233.6 L113.89 233.6 L114.57 233.6 L115.24 233.6 L115.92 233.6 L116.6 233.6 L117.28 233.6 L117.95 233.6 L118.63 233.6 L119.31 233.6 L119.99 233.6 L120.66 233.6 L121.34 233.6 L122.02 233.6 L122.7 233.6 L123.38 233.6 L124.05 233.6 L124.73 233.6 L125.41 233.6 L126.09 233.6 L126.76 233.6 L127.44 233.6 L128.12 233.6 L128.8 233.6 L129.47 233.6 L130.15 233.6 L130.83 233.6 L131.51 233.6 L132.19 233.6 L132.86 233.6 L133.54 233.6 L134.22 233.6 L134.9 233.6 L135.57 233.6 L136.25 233.6 L136.93 233.6 L137.61 233.6 L138.29 233.6 L138.96 233.6 L139.64 233.6 L140.32 233.6 L141 233.6 L141.67 233.6 L142.35 233.6 L143.03 233.6 L143.71 233.6 L144.38 233.6 L145.06 233.6 L145.74 233.6 L146.42 233.6 L147.1 233.6 L147.77 233.6 L148.45 233.6 L149.13 233.6 L149.81 233.6 L150.48 233.6 L151.16 233.61 L151.84 233.61 L152.52 233.61 L153.19 233.61 L153.87 233.61 L154.55 233.61 L155.23 233.62 L155.91 233.62 L156.58 233.63 L157.26 233.63 L157.94 233.64 L158.62 233.65 L159.29 233.66 L159.97 233.67 L160.65 233.69 L161.33 233.71 L162.01 233.74 L162.68 233.77 L163.36 233.81 L164.04 233.85 L164.72 233.91 L165.39 233.98 L166.07 234.06 L166.75 234.16 L167.43 234.28 L168.1 234.42 L168.78 234.59 L169.46 234.8 L170.14 235.03 L170.82 235.31 L171.49 235.64 L172.17 236 L172.85 236.42 L173.53 236.88 L174.2 237.38 L174.88 237.92 L175.56 238.49 L176.24 239.08 L176.92 239.68 L177.59 240.27 L178.27 240.84 L178.95 241.38 L179.63 241.89 L180.3 242.35 L180.98 242.77 L181.66 243.14 L182.34 243.47 L183.01 243.75 L183.69 243.99 L184.37 244.19 L185.05 244.37 L185.73 244.51 L186.4 244.63 L187.08 244.74 L187.76 244.82 L188.44 244.89 L189.11 244.94 L189.79 244.99 L190.47 245.03 L191.15 245.06 L191.82 245.09 L192.5 245.11 L193.18 245.12 L193.86 245.14 L194.54 245.15 L195.21 245.16 L195.89 245.17 L196.57 245.17 L197.25 245.18 L197.92 245.18 L198.6 245.19 L199.28 245.19 L199.96 245.19 L200.64 245.19 L201.31 245.19 L201.99 245.19 L202.67 245.2 L203.35 245.2 L204.02 245.2 L204.7 245.2 L205.38 245.2 L206.06 245.2 L206.73 245.2 L207.41 245.2 L208.09 245.2 L208.77 245.2 L209.45 245.2 L210.12 245.2 L210.8 245.2 L211.48 245.2 L212.16 245.2 L212.83 245.2 L213.51 245.2 L214.19 245.2 L214.87 245.2 L215.54 245.2 L216.22 245.2 L216.9 245.2 L217.58 245.2 L218.26 245.2 L218.93 245.2 L219.61 245.2 L220.29 245.2 L220.97 245.2 L221.64 245.2 L222.32 245.2 L223 245.2 L223.68 245.2 L224.36 245.2 L225.03 245.2 L225.71 245.2 L226.39 245.2 L227.07 245.2 L227.74 245.2 L228.42 245.2 L229.1 245.2 L229.78 245.2 L230.45 245.2 L231.13 245.2 L231.81 245.2 L232.49 245.2 L233.17 245.2 L233.84 245.2 L234.52 245.2 L235.2 245.2 L235.88 245.2 L236.55 245.2 L237.23 245.2 L237.91 245.19 L238.59 245.19 L239.26 245.19 L239.94 245.19 L240.62 245.19 L241.3 245.18 L241.98 245.18 L242.65 245.18 L243.33 245.17 L244.01 245.17 L244.69 245.16 L245.36 245.15 L246.04 245.14 L246.72 245.12 L247.4 245.1 L248.08 245.08 L248.75 245.06 L249.43 245.02 L250.11 244.98 L250.79 244.94 L251.46 244.88 L252.14 244.81 L252.82 244.72 L253.5 244.62 L254.17 244.49 L254.85 244.34 L255.53 244.17 L256.21 243.96 L256.89 243.71 L257.56 243.42 L258.24 243.09 L258.92 242.71 L259.6 242.29 L260.27 241.82 L260.95 241.3 L261.63 240.75 L262.31 240.18 L262.98 239.59 L263.66 238.99 L264.34 238.41 L265.02 237.84 L265.7 237.31 L266.37 236.81 L267.05 236.35 L267.73 235.95 L268.41 235.58 L269.08 235.27 L269.76 235 L270.44 234.76 L271.12 234.57 L271.8 234.4 L272.47 234.26 L273.15 234.14 L273.83 234.05 L274.51 233.97 L275.18 233.9 L275.86 233.84 L276.54 233.8 L277.22 233.76 L277.89 233.73 L278.57 233.71 L279.25 233.69 L279.93 233.67 L280.61 233.66 L281.28 233.65 L281.96 233.64 L282.64 233.63 L283.32 233.63 L283.99 233.62 L284.67 233.62 L285.35 233.61 L286.03 233.61 L286.71 233.61 L287.38 233.61 L288.06 233.61 L288.74 233.61 L289.42 233.6 L290.09 233.6 L290.77 233.6 L291.45 233.6 L292.13 233.6 L292.8 233.6 L293.48 233.6 L294.16 233.6 L294.84 233.6 L295.52 233.6 L296.19 233.6 L296.87 233.6 L297.55 233.6 L298.23 233.6 L298.9 233.6 L299.58 233.6 L300.26 233.6 L300.94 233.6 L301.61 233.6 L302.29 233.6 L302.97 233.6 L303.65 233.6 L304.33 233.6 L305 233.6 L305.68 233.6 L306.36 233.6 L307.04 233.6 L307.71 233.6 L308.39 233.6 L309.07 233.6 L309.75 233.6 L310.43 233.6 L311.1 233.6 L311.78 233.6 L312.46 233.6 L313.14 233.6 L313.81 233.6 L314.49 233.6 L315.17 233.6 L315.85 233.6 L316.52 233.6 L317.2 233.6 L317.88 233.6 L318.56 233.6 L319.24 233.6 L319.91 233.6 L320.59 233.6 L321.27 233.6 L321.95 233.6 L322.62 233.6 L323.3 233.6 L323.98 233.6 L324.66 233.6 L325.33 233.6 L326.01 233.6 L326.69 233.6 L327.37 233.6 L328.05 233.6 L328.72 233.6 L329.4 233.6 L330.08 233.6 L330.76 233.6 L331.43 233.6 L332.11 233.6 L332.79 233.6 L333.47 233.6 L334.15 233.6 L334.82 233.6 L335.5 233.6 L336.18 233.6 L336.86 233.6 L337.53 233.6 L338.21 233.6 L338.89 233.6 L339.57 233.6 L340.24 233.6 L340.92 233.6 L341.6 233.6" fill="none" stroke="#0000ff" stroke-width="2.5" />
<path d="M98.3 233.6 L98.98 233.6 L99.66 233.6 L100.33 233.6 L101.01 233.6 L101.69 233.6 L102.37 233.6 L103.04 233.6 L103.72 233.6 L104.4 233.6 L105.08 233.6 L105.75 233.6 L106.43 233.6 L107.11 233.6 L107.79 233.6 L108.47 233.6 L109.14 233.6 L109.82 233.6 L110.5 233.6 L111.18 233.6 L111.85 233.6 L112.53 233.6 L113.21 233.6 L113.89 233.6 L114.57 233.6 L115.24 233.6 L115.92 233.6 L116.6 233.6 L117.28 233.6 L117.95 233.6 L118.63 233.6 L119.31 233.6 L119.99 233.6 L120.66 233.6 L121.34 233.6 L122.02 233.6 L122.7 233.6 L123.38 233.6 L124.05 233.6 L124.73 233.6 L125.41 233.6 L126.09 233.6 L126.76 233.6 L127.44 233.6 L128.12 233.6 L128.8 233.6 L129.47 233.6 L130.15 233.6 L130.83 233.6 L131.51 233.6 L132.19 233.6 L132.86 233.6 L133.54 233.6 L134.22 233.6 L134.9 233.6 L135.57 233.6 L136.25 233.6 L136.93 233.6 L137.61 233.6 L138.29 233.6 L138.96 233.6 L139.64 233.6 L140.32 233.6 L141 233.6 L141.67 233.6 L142.35 233.6 L143.03 233.6 L143.71 233.6 L144.38 233.6 L145.06 233.61 L145.74 233.63 L146.42 233.65 L147.1 233.68 L147.77 233.71 L148.45 233.75 L149.13 233.8 L149.81 233.85 L150.48 233.91 L151.16 233.98 L151.84 234.13 L152.52 234.37 L153.19 234.68 L153.87 235.07 L154.55 235.5 L155.23 235.98 L155.91 236.49 L156.58 237.02 L157.26 237.61 L157.94 238.37 L158.62 239.26 L159.29 240.26 L159.97 241.31 L160.65 242.39 L161.33 243.45 L162.01 244.46 L162.68 245.55 L163.36 246.65 L164.04 247.65 L164.72 248.47 L165.39 249.29 L166.07 249.95 L166.75 250.19 L167.43 249.82 L168.1 249 L168.78 247.97 L169.46 246.38 L170.14 244.19 L170.82 241.76 L171.49 238.95 L172.17 235.73 L172.85 232.27 L173.53 228.15 L174.2 224.16 L174.88 221.29 L175.56 219.01 L176.24 217.17 L176.92 215.8 L177.59 214.58 L178.27 213.64 L178.95 213.3 L179.63 213.76 L180.3 214.77 L180.98 215.99 L181.66 217.35 L182.34 219.1 L183.01 221.02 L183.69 222.86 L184.37 224.72 L185.05 226.61 L185.73 228.48 L186.4 230.24 L187.08 231.97 L187.76 233.69 L188.44 235.3 L189.11 236.69 L189.79 237.83 L190.47 238.86 L191.15 239.8 L191.82 240.65 L192.5 241.39 L193.18 242.01 L193.86 242.53 L194.54 243.04 L195.21 243.51 L195.89 243.93 L196.57 244.29 L197.25 244.58 L197.92 244.78 L198.6 244.89 L199.28 244.97 L199.96 245.04 L200.64 245.09 L201.31 245.12 L201.99 245.14 L202.67 245.16 L203.35 245.17 L204.02 245.18 L204.7 245.18 L205.38 245.19 L206.06 245.19 L206.73 245.2 L207.41 245.2 L208.09 245.2 L208.77 245.2 L209.45 245.2 L210.12 245.2 L210.8 245.2 L211.48 245.2 L212.16 245.2 L212.83 245.2 L213.51 245.2 L214.19 245.2 L214.87 245.2 L215.54 245.2 L216.22 245.2 L216.9 245.2 L217.58 245.2 L218.26 245.2 L218.93 245.2 L219.61 245.2 L220.29 245.2 L220.97 245.2 L221.64 245.2 L222.32 245.2 L223 245.2 L223.68 245.2 L224.36 245.2 L225.03 245.2 L225.71 245.2 L226.39 245.2 L227.07 245.2 L227.74 245.2 L228.42 245.2 L229.1 245.2 L229.78 245.2 L230.45 245.2 L231.13 245.2 L231.81 245.2 L232.49 245.2 L233.17 245.2 L233.84 245.19 L234.52 245.19 L235.2 245.18 L235.88 245.17 L236.55 245.16 L237.23 245.15 L237.91 245.14 L238.59 245.12 L239.26 245.08 L239.94 245.03 L240.62 244.96 L241.3 244.88 L241.98 244.76 L242.65 244.55 L243.33 244.24 L244.01 243.87 L244.69 243.44 L245.36 242.96 L246.04 242.46 L246.72 241.92 L247.4 241.28 L248.08 240.53 L248.75 239.67 L249.43 238.71 L250.11 237.67 L250.79 236.51 L251.46 235.07 L252.14 233.44 L252.82 231.71 L253.5 229.99 L254.17 228.21 L254.85 226.33 L255.53 224.44 L256.21 222.59 L256.89 220.73 L257.56 218.83 L258.24 217.12 L258.92 215.81 L259.6 214.6 L260.27 213.65 L260.95 213.3 L261.63 213.75 L262.31 214.75 L262.98 215.99 L263.66 217.41 L264.34 219.32 L265.02 221.66 L265.7 224.7 L266.37 228.77 L267.05 232.82 L267.73 236.22 L268.41 239.39 L269.08 242.13 L269.76 244.53 L270.44 246.66 L271.12 248.13 L271.8 249.14 L272.47 249.91 L273.15 250.19 L273.83 249.87 L274.51 249.18 L275.18 248.35 L275.86 247.52 L276.54 246.49 L277.22 245.39 L277.89 244.31 L278.57 243.29 L279.25 242.23 L279.93 241.15 L280.61 240.1 L281.28 239.12 L281.96 238.24 L282.64 237.51 L283.32 236.94 L283.99 236.41 L284.67 235.91 L285.35 235.43 L286.03 235.01 L286.71 234.63 L287.38 234.33 L288.06 234.1 L288.74 233.97 L289.42 233.9 L290.09 233.84 L290.77 233.79 L291.45 233.75 L292.13 233.71 L292.8 233.67 L293.48 233.64 L294.16 233.62 L294.84 233.61 L295.52 233.6 L296.19 233.6 L296.87 233.6 L297.55 233.6 L298.23 233.6 L298.9 233.6 L299.58 233.6 L300.26 233.6 L300.94 233.6 L301.61 233.6 L302.29 233.6 L302.97 233.6 L303.65 233.6 L304.33 233.6 L305 233.6 L305.68 233.6 L306.36 233.6 L307.04 233.6 L307.71 233.6 L308.39 233.6 L309.07 233.6 L309.75 233.6 L310.43 233.6 L311.1 233.6 L311.78 233.6 L312.46 233.6 L313.14 233.6 L313.81 233.6 L314.49 233.6 L315.17 233.6 L315.85 233.6 L316.52 233.6 L317.2 233.6 L317.88 233.6 L318.56 233.6 L319.24 233.6 L319.91 233.6 L320.59 233.6 L321.27 233.6 L321.95 233.6 L322.62 233.6 L323.3 233.6 L323.98 233.6 L324.66 233.6 L325.33 233.6 L326.01 233.6 L326.69 233.6 L327.37 233.6 L328.05 233.6 L328.72 233.6 L329.4 233.6 L330.08 233.6 L330.76 233.6 L331.43 233.6 L332.11 233.6 L332.79 233.6 L333.47 233.6 L334.15 233.6 L334.82 233.6 L335.5 233.6 L336.18 233.6 L336.86 233.6 L337.53 233.6 L338.21 233.6 L338.89 233.6 L339.57 233.6 L340.24 233.6 L340.92 233.6 L341.6 233.6" fill="none" stroke="#ff0000" stroke-width="1.45" stroke-dasharray="2.2 0.95" />
<path d="M98.3 233.6 L176.2 233.6 L176.2 245.5 L263.6 245.5 L263.6 233.6 L341.6 233.6" fill="none" stroke="#000" stroke-width="1.15"/>
<rect x="98.3" y="207.3" width="243.3" height="59.3" fill="none" stroke="#3a3a3a" stroke-width="0.9"/>
<line x1="133.5" y1="207.3" x2="133.5" y2="209.3" stroke="#3a3a3a" stroke-width="0.8" />
<line x1="176.7" y1="207.3" x2="176.7" y2="209.3" stroke="#3a3a3a" stroke-width="0.8" />
<line x1="219.9" y1="207.3" x2="219.9" y2="209.3" stroke="#3a3a3a" stroke-width="0.8" />
<line x1="263.1" y1="207.3" x2="263.1" y2="209.3" stroke="#3a3a3a" stroke-width="0.8" />
<line x1="306.3" y1="207.3" x2="306.3" y2="209.3" stroke="#3a3a3a" stroke-width="0.8" />
<line x1="128.8" y1="266.6" x2="128.8" y2="264.6" stroke="#3a3a3a" stroke-width="0.8" />
<line x1="159.3" y1="266.6" x2="159.3" y2="264.6" stroke="#3a3a3a" stroke-width="0.8" />
<line x1="189.8" y1="266.6" x2="189.8" y2="264.6" stroke="#3a3a3a" stroke-width="0.8" />
<line x1="220.3" y1="266.6" x2="220.3" y2="264.6" stroke="#3a3a3a" stroke-width="0.8" />
<line x1="250.8" y1="266.6" x2="250.8" y2="264.6" stroke="#3a3a3a" stroke-width="0.8" />
<line x1="281.3" y1="266.6" x2="281.3" y2="264.6" stroke="#3a3a3a" stroke-width="0.8" />
<line x1="311.8" y1="266.6" x2="311.8" y2="264.6" stroke="#3a3a3a" stroke-width="0.8" />
<line x1="98.3" y1="219.6" x2="100.3" y2="219.6" stroke="#3a3a3a" stroke-width="0.8" />
<line x1="341.6" y1="219.6" x2="339.6" y2="219.6" stroke="#3a3a3a" stroke-width="0.8" />
<line x1="98.3" y1="231" x2="100.3" y2="231" stroke="#3a3a3a" stroke-width="0.8" />
<line x1="341.6" y1="231" x2="339.6" y2="231" stroke="#3a3a3a" stroke-width="0.8" />
<line x1="98.3" y1="242.5" x2="100.3" y2="242.5" stroke="#3a3a3a" stroke-width="0.8" />
<line x1="341.6" y1="242.5" x2="339.6" y2="242.5" stroke="#3a3a3a" stroke-width="0.8" />
<line x1="98.3" y1="254.2" x2="100.3" y2="254.2" stroke="#3a3a3a" stroke-width="0.8" />
<line x1="341.6" y1="254.2" x2="339.6" y2="254.2" stroke="#3a3a3a" stroke-width="0.8" />
<text x="69.6" y="207.4" font-size="12.5" fill="#000" text-anchor="start" >(c)</text>
<text x="96.6" y="213.8" font-size="11.6" fill="#000" text-anchor="end" >2</text>
<text x="96.6" y="226.1" font-size="11.6" fill="#000" text-anchor="end" >1</text>
<text x="96.6" y="238.4" font-size="11.6" fill="#000" text-anchor="end" >0</text>
<text x="96.6" y="250.7" font-size="11.6" fill="#000" text-anchor="end" >-1</text>
<text x="96.6" y="263.5" font-size="11.6" fill="#000" text-anchor="end" >-2</text>
<text transform="translate(98.8,277.8) scale(1.0,1.08)" font-size="13.2" fill="#000" text-anchor="middle" >-2</text>
<text transform="translate(156.2,277.8) scale(1.0,1.08)" font-size="13.2" fill="#000" text-anchor="middle" >-1</text>
<text transform="translate(219.5,277.8) scale(1.0,1.08)" font-size="13.2" fill="#000" text-anchor="middle" >0</text>
<text transform="translate(281.5,277.8) scale(1.0,1.08)" font-size="13.2" fill="#000" text-anchor="middle" >1</text>
<text transform="translate(340.3,277.8) scale(1.0,1.08)" font-size="13.2" fill="#000" text-anchor="middle" >2</text>
<text x="216.3" y="289" font-size="14.4" fill="#000" text-anchor="middle" >X</text>
<text transform="translate(79.2,233.3) rotate(-90)" font-size="12.4" text-anchor="middle">V [a.u.]</text>
<g fill="#0000ff"><text x="134.2" y="223.8" font-size="12.7">V</text><text x="142.5" y="216.2" font-size="7.8">(&#945;)</text><text x="142.8" y="227.1" font-size="8.2">TE</text></g>
<g fill="#ff0000"><text x="198.5" y="226.3" font-size="12.7">V</text><text x="206.8" y="218.7" font-size="7.8">(&#945;)</text><text x="207.1" y="229.6" font-size="8.2">TM</text></g>
<g fill="#000"><text x="193.7" y="261.2" font-size="12.7">V</text><text x="202" y="253.6" font-size="7.8">(&#8734;)</text><text x="202.3" y="264.5" font-size="8.2">TE</text></g>
<line x1="153.8" y1="224.3" x2="160.81" y2="230.65" stroke="#0000ff" stroke-width="0.8" />
<polygon points="163.4,233 158.92,231.24 161.21,228.72" fill="#0000ff"/>
<line x1="198.5" y1="220" x2="189.83" y2="229.69" stroke="#ff0000" stroke-width="0.8" />
<polygon points="187.5,232.3 189.23,227.81 191.77,230.08" fill="#ff0000"/>
<line x1="192.2" y1="254" x2="181.69" y2="247.91" stroke="#000" stroke-width="0.8" />
<polygon points="178.4,246 183.46,246.85 181.65,249.96" fill="#000"/>
<clipPath id="cd"><rect x="382.4" y="17.8" width="259.8" height="247.5"/></clipPath>
<g clip-path="url(#cd)">
<path d="M382.4 57.9 L383.07 57.9 L383.75 57.9 L384.42 57.9 L385.09 57.89 L385.77 57.89 L386.44 57.89 L387.11 57.88 L387.78 57.88 L388.46 57.87 L389.13 57.87 L389.8 57.86 L390.48 57.85 L391.15 57.84 L391.82 57.84 L392.5 57.83 L393.17 57.82 L393.84 57.81 L394.52 57.8 L395.19 57.79 L395.86 57.78 L396.53 57.76 L397.21 57.75 L397.88 57.74 L398.55 57.73 L399.23 57.72 L399.9 57.7 L400.57 57.69 L401.25 57.67 L401.92 57.65 L402.59 57.62 L403.26 57.6 L403.94 57.56 L404.61 57.53 L405.28 57.49 L405.96 57.46 L406.63 57.41 L407.3 57.37 L407.98 57.32 L408.65 57.28 L409.32 57.23 L410 57.18 L410.67 57.12 L411.34 57.07 L412.01 57.01 L412.69 56.95 L413.36 56.89 L414.03 56.83 L414.71 56.76 L415.38 56.69 L416.05 56.61 L416.73 56.52 L417.4 56.43 L418.07 56.33 L418.75 56.23 L419.42 56.11 L420.09 55.99 L420.76 55.87 L421.44 55.73 L422.11 55.58 L422.78 55.4 L423.46 55.19 L424.13 54.96 L424.8 54.71 L425.48 54.44 L426.15 54.17 L426.82 53.89 L427.49 53.61 L428.17 53.34 L428.84 53.08 L429.51 52.83 L430.19 52.61 L430.86 52.38 L431.53 52.17 L432.21 51.95 L432.88 51.73 L433.55 51.52 L434.23 51.31 L434.9 51.1 L435.57 50.89 L436.24 50.69 L436.92 50.48 L437.59 50.28 L438.26 50.08 L438.94 49.88 L439.61 49.68 L440.28 49.48 L440.96 49.29 L441.63 49.09 L442.3 48.9 L442.98 48.71 L443.65 48.52 L444.32 48.33 L444.99 48.14 L445.67 47.96 L446.34 47.77 L447.01 47.59 L447.69 47.4 L448.36 47.22 L449.03 47.04 L449.71 46.86 L450.38 46.68 L451.05 46.5 L451.72 46.32 L452.4 46.14 L453.07 45.96 L453.74 45.79 L454.42 45.62 L455.09 45.44 L455.76 45.27 L456.44 45.1 L457.11 44.94 L457.78 44.77 L458.46 44.6 L459.13 44.44 L459.8 44.28 L460.47 44.12 L461.15 43.97 L461.82 43.81 L462.49 43.66 L463.17 43.51 L463.84 43.36 L464.51 43.21 L465.19 43.06 L465.86 42.91 L466.53 42.76 L467.21 42.61 L467.88 42.46 L468.55 42.31 L469.22 42.16 L469.9 42.02 L470.57 41.87 L471.24 41.73 L471.92 41.59 L472.59 41.46 L473.26 41.32 L473.94 41.19 L474.61 41.06 L475.28 40.94 L475.95 40.82 L476.63 40.7 L477.3 40.59 L477.97 40.48 L478.65 40.38 L479.32 40.28 L479.99 40.19 L480.67 40.1 L481.34 40.01 L482.01 39.92 L482.69 39.84 L483.36 39.75 L484.03 39.67 L484.7 39.59 L485.38 39.51 L486.05 39.43 L486.72 39.36 L487.4 39.28 L488.07 39.21 L488.74 39.14 L489.42 39.07 L490.09 39.01 L490.76 38.95 L491.44 38.88 L492.11 38.83 L492.78 38.77 L493.45 38.71 L494.13 38.66 L494.8 38.61 L495.47 38.57 L496.15 38.52 L496.82 38.48 L497.49 38.44 L498.17 38.4 L498.84 38.36 L499.51 38.32 L500.18 38.28 L500.86 38.24 L501.53 38.21 L502.2 38.17 L502.88 38.13 L503.55 38.1 L504.22 38.07 L504.9 38.04 L505.57 38.01 L506.24 37.98 L506.92 37.95 L507.59 37.93 L508.26 37.9 L508.93 37.88 L509.61 37.86 L510.28 37.84 L510.95 37.83 L511.63 37.81 L512.3 37.8 L512.3 37.8 L512.97 37.81 L513.65 37.83 L514.32 37.84 L514.99 37.86 L515.67 37.88 L516.34 37.9 L517.01 37.93 L517.68 37.95 L518.36 37.98 L519.03 38.01 L519.7 38.04 L520.38 38.07 L521.05 38.1 L521.72 38.13 L522.4 38.17 L523.07 38.21 L523.74 38.24 L524.42 38.28 L525.09 38.32 L525.76 38.36 L526.43 38.4 L527.11 38.44 L527.78 38.48 L528.45 38.52 L529.13 38.57 L529.8 38.61 L530.47 38.66 L531.15 38.71 L531.82 38.77 L532.49 38.83 L533.16 38.88 L533.84 38.95 L534.51 39.01 L535.18 39.07 L535.86 39.14 L536.53 39.21 L537.2 39.28 L537.88 39.36 L538.55 39.43 L539.22 39.51 L539.9 39.59 L540.57 39.67 L541.24 39.75 L541.91 39.84 L542.59 39.92 L543.26 40.01 L543.93 40.1 L544.61 40.19 L545.28 40.28 L545.95 40.38 L546.63 40.48 L547.3 40.59 L547.97 40.7 L548.65 40.82 L549.32 40.94 L549.99 41.06 L550.66 41.19 L551.34 41.32 L552.01 41.46 L552.68 41.59 L553.36 41.73 L554.03 41.87 L554.7 42.02 L555.38 42.16 L556.05 42.31 L556.72 42.46 L557.39 42.61 L558.07 42.76 L558.74 42.91 L559.41 43.06 L560.09 43.21 L560.76 43.36 L561.43 43.51 L562.11 43.66 L562.78 43.81 L563.45 43.97 L564.13 44.12 L564.8 44.28 L565.47 44.44 L566.14 44.6 L566.82 44.77 L567.49 44.94 L568.16 45.1 L568.84 45.27 L569.51 45.44 L570.18 45.62 L570.86 45.79 L571.53 45.96 L572.2 46.14 L572.88 46.32 L573.55 46.5 L574.22 46.68 L574.89 46.86 L575.57 47.04 L576.24 47.22 L576.91 47.4 L577.59 47.59 L578.26 47.77 L578.93 47.96 L579.61 48.14 L580.28 48.33 L580.95 48.52 L581.62 48.71 L582.3 48.9 L582.97 49.09 L583.64 49.29 L584.32 49.48 L584.99 49.68 L585.66 49.88 L586.34 50.08 L587.01 50.28 L587.68 50.48 L588.36 50.69 L589.03 50.89 L589.7 51.1 L590.37 51.31 L591.05 51.52 L591.72 51.73 L592.39 51.95 L593.07 52.17 L593.74 52.38 L594.41 52.61 L595.09 52.83 L595.76 53.08 L596.43 53.34 L597.11 53.61 L597.78 53.89 L598.45 54.17 L599.12 54.44 L599.8 54.71 L600.47 54.96 L601.14 55.19 L601.82 55.4 L602.49 55.58 L603.16 55.73 L603.84 55.87 L604.51 55.99 L605.18 56.11 L605.85 56.23 L606.53 56.33 L607.2 56.43 L607.87 56.52 L608.55 56.61 L609.22 56.69 L609.89 56.76 L610.57 56.83 L611.24 56.89 L611.91 56.95 L612.59 57.01 L613.26 57.07 L613.93 57.12 L614.6 57.18 L615.28 57.23 L615.95 57.28 L616.62 57.32 L617.3 57.37 L617.97 57.41 L618.64 57.46 L619.32 57.49 L619.99 57.53 L620.66 57.56 L621.34 57.6 L622.01 57.62 L622.68 57.65 L623.35 57.67 L624.03 57.69 L624.7 57.7 L625.37 57.72 L626.05 57.73 L626.72 57.74 L627.39 57.75 L628.07 57.76 L628.74 57.78 L629.41 57.79 L630.08 57.8 L630.76 57.81 L631.43 57.82 L632.1 57.83 L632.78 57.84 L633.45 57.84 L634.12 57.85 L634.8 57.86 L635.47 57.87 L636.14 57.87 L636.82 57.88 L637.49 57.88 L638.16 57.89 L638.83 57.89 L639.51 57.89 L640.18 57.9 L640.85 57.9 L641.53 57.9 L642.2 57.9" fill="none" stroke="#0000ff" stroke-width="1.4" />
<path d="M382.4 57.6 L383.07 57.6 L383.75 57.6 L384.42 57.59 L385.09 57.59 L385.77 57.58 L386.44 57.57 L387.11 57.56 L387.78 57.55 L388.46 57.54 L389.13 57.52 L389.8 57.51 L390.48 57.49 L391.15 57.48 L391.82 57.46 L392.5 57.44 L393.17 57.42 L393.84 57.4 L394.52 57.38 L395.19 57.36 L395.86 57.34 L396.53 57.32 L397.21 57.3 L397.88 57.27 L398.55 57.25 L399.23 57.23 L399.9 57.2 L400.57 57.18 L401.25 57.15 L401.92 57.12 L402.59 57.09 L403.26 57.06 L403.94 57.02 L404.61 56.98 L405.28 56.94 L405.96 56.9 L406.63 56.85 L407.3 56.8 L407.98 56.75 L408.65 56.7 L409.32 56.65 L410 56.59 L410.67 56.54 L411.34 56.48 L412.01 56.42 L412.69 56.36 L413.36 56.29 L414.03 56.23 L414.71 56.16 L415.38 56.09 L416.05 56.01 L416.73 55.92 L417.4 55.83 L418.07 55.74 L418.75 55.63 L419.42 55.52 L420.09 55.4 L420.76 55.27 L421.44 55.13 L422.11 54.98 L422.78 54.79 L423.46 54.57 L424.13 54.32 L424.8 54.04 L425.48 53.74 L426.15 53.43 L426.82 53.1 L427.49 52.76 L428.17 52.41 L428.84 52.06 L429.51 51.7 L430.19 51.35 L430.86 50.97 L431.53 50.56 L432.21 50.14 L432.88 49.7 L433.55 49.24 L434.23 48.77 L434.9 48.3 L435.57 47.83 L436.24 47.36 L436.92 46.9 L437.59 46.46 L438.26 46.02 L438.94 45.6 L439.61 45.18 L440.28 44.77 L440.96 44.36 L441.63 43.95 L442.3 43.54 L442.98 43.14 L443.65 42.73 L444.32 42.33 L444.99 41.94 L445.67 41.54 L446.34 41.15 L447.01 40.76 L447.69 40.36 L448.36 39.97 L449.03 39.57 L449.71 39.17 L450.38 38.76 L451.05 38.36 L451.72 37.96 L452.4 37.56 L453.07 37.16 L453.74 36.76 L454.42 36.36 L455.09 35.97 L455.76 35.59 L456.44 35.2 L457.11 34.83 L457.78 34.46 L458.46 34.1 L459.13 33.74 L459.8 33.4 L460.47 33.06 L461.15 32.73 L461.82 32.41 L462.49 32.11 L463.17 31.81 L463.84 31.53 L464.51 31.25 L465.19 30.97 L465.86 30.69 L466.53 30.42 L467.21 30.16 L467.88 29.89 L468.55 29.63 L469.22 29.38 L469.9 29.13 L470.57 28.88 L471.24 28.64 L471.92 28.41 L472.59 28.18 L473.26 27.95 L473.94 27.73 L474.61 27.51 L475.28 27.3 L475.95 27.1 L476.63 26.9 L477.3 26.7 L477.97 26.51 L478.65 26.33 L479.32 26.15 L479.99 25.98 L480.67 25.81 L481.34 25.64 L482.01 25.47 L482.69 25.31 L483.36 25.14 L484.03 24.98 L484.7 24.83 L485.38 24.67 L486.05 24.52 L486.72 24.37 L487.4 24.22 L488.07 24.08 L488.74 23.94 L489.42 23.81 L490.09 23.68 L490.76 23.55 L491.44 23.43 L492.11 23.31 L492.78 23.2 L493.45 23.1 L494.13 23 L494.8 22.91 L495.47 22.82 L496.15 22.74 L496.82 22.67 L497.49 22.59 L498.17 22.52 L498.84 22.45 L499.51 22.38 L500.18 22.31 L500.86 22.24 L501.53 22.17 L502.2 22.11 L502.88 22.05 L503.55 21.99 L504.22 21.93 L504.9 21.88 L505.57 21.82 L506.24 21.77 L506.92 21.73 L507.59 21.69 L508.26 21.65 L508.93 21.61 L509.61 21.58 L510.28 21.55 L510.95 21.53 L511.63 21.51 L512.3 21.5 L512.3 21.5 L512.97 21.51 L513.65 21.53 L514.32 21.55 L514.99 21.58 L515.67 21.61 L516.34 21.65 L517.01 21.69 L517.68 21.73 L518.36 21.77 L519.03 21.82 L519.7 21.88 L520.38 21.93 L521.05 21.99 L521.72 22.05 L522.4 22.11 L523.07 22.17 L523.74 22.24 L524.42 22.31 L525.09 22.38 L525.76 22.45 L526.43 22.52 L527.11 22.59 L527.78 22.67 L528.45 22.74 L529.13 22.82 L529.8 22.91 L530.47 23 L531.15 23.1 L531.82 23.2 L532.49 23.31 L533.16 23.43 L533.84 23.55 L534.51 23.68 L535.18 23.81 L535.86 23.94 L536.53 24.08 L537.2 24.22 L537.88 24.37 L538.55 24.52 L539.22 24.67 L539.9 24.83 L540.57 24.98 L541.24 25.14 L541.91 25.31 L542.59 25.47 L543.26 25.64 L543.93 25.81 L544.61 25.98 L545.28 26.15 L545.95 26.33 L546.63 26.51 L547.3 26.7 L547.97 26.9 L548.65 27.1 L549.32 27.3 L549.99 27.51 L550.66 27.73 L551.34 27.95 L552.01 28.18 L552.68 28.41 L553.36 28.64 L554.03 28.88 L554.7 29.13 L555.38 29.38 L556.05 29.63 L556.72 29.89 L557.39 30.16 L558.07 30.42 L558.74 30.69 L559.41 30.97 L560.09 31.25 L560.76 31.53 L561.43 31.81 L562.11 32.11 L562.78 32.41 L563.45 32.73 L564.13 33.06 L564.8 33.4 L565.47 33.74 L566.14 34.1 L566.82 34.46 L567.49 34.83 L568.16 35.2 L568.84 35.59 L569.51 35.97 L570.18 36.36 L570.86 36.76 L571.53 37.16 L572.2 37.56 L572.88 37.96 L573.55 38.36 L574.22 38.76 L574.89 39.17 L575.57 39.57 L576.24 39.97 L576.91 40.36 L577.59 40.76 L578.26 41.15 L578.93 41.54 L579.61 41.94 L580.28 42.33 L580.95 42.73 L581.62 43.14 L582.3 43.54 L582.97 43.95 L583.64 44.36 L584.32 44.77 L584.99 45.18 L585.66 45.6 L586.34 46.02 L587.01 46.46 L587.68 46.9 L588.36 47.36 L589.03 47.83 L589.7 48.3 L590.37 48.77 L591.05 49.24 L591.72 49.7 L592.39 50.14 L593.07 50.56 L593.74 50.97 L594.41 51.35 L595.09 51.7 L595.76 52.06 L596.43 52.41 L597.11 52.76 L597.78 53.1 L598.45 53.43 L599.12 53.74 L599.8 54.04 L600.47 54.32 L601.14 54.57 L601.82 54.79 L602.49 54.98 L603.16 55.13 L603.84 55.27 L604.51 55.4 L605.18 55.52 L605.85 55.63 L606.53 55.74 L607.2 55.83 L607.87 55.92 L608.55 56.01 L609.22 56.09 L609.89 56.16 L610.57 56.23 L611.24 56.29 L611.91 56.36 L612.59 56.42 L613.26 56.48 L613.93 56.54 L614.6 56.59 L615.28 56.65 L615.95 56.7 L616.62 56.75 L617.3 56.8 L617.97 56.85 L618.64 56.9 L619.32 56.94 L619.99 56.98 L620.66 57.02 L621.34 57.06 L622.01 57.09 L622.68 57.12 L623.35 57.15 L624.03 57.18 L624.7 57.2 L625.37 57.23 L626.05 57.25 L626.72 57.27 L627.39 57.3 L628.07 57.32 L628.74 57.34 L629.41 57.36 L630.08 57.38 L630.76 57.4 L631.43 57.42 L632.1 57.44 L632.78 57.46 L633.45 57.48 L634.12 57.49 L634.8 57.51 L635.47 57.52 L636.14 57.54 L636.82 57.55 L637.49 57.56 L638.16 57.57 L638.83 57.58 L639.51 57.59 L640.18 57.59 L640.85 57.6 L641.53 57.6 L642.2 57.6" fill="none" stroke="#ff0000" stroke-width="1.45" stroke-dasharray="2.2 0.95" />
<path d="M382.5 97.9 L383.17 97.86 L383.85 97.82 L384.52 97.77 L385.19 97.71 L385.86 97.64 L386.54 97.57 L387.21 97.5 L387.88 97.42 L388.56 97.33 L389.23 97.24 L389.9 97.14 L390.57 97.04 L391.25 96.93 L391.92 96.83 L392.59 96.71 L393.27 96.6 L393.94 96.48 L394.61 96.36 L395.29 96.24 L395.96 96.12 L396.63 95.99 L397.3 95.86 L397.98 95.73 L398.65 95.58 L399.32 95.43 L400 95.27 L400.67 95.1 L401.34 94.92 L402.01 94.74 L402.69 94.54 L403.36 94.34 L404.03 94.13 L404.71 93.91 L405.38 93.69 L406.05 93.45 L406.73 93.21 L407.4 92.95 L408.07 92.69 L408.74 92.42 L409.42 92.12 L410.09 91.79 L410.76 91.44 L411.44 91.07 L412.11 90.68 L412.78 90.26 L413.45 89.83 L414.13 89.38 L414.8 88.91 L415.47 88.43 L416.15 87.94 L416.82 87.43 L417.49 86.89 L418.16 86.31 L418.84 85.69 L419.51 85.04 L420.18 84.36 L420.86 83.66 L421.53 82.94 L422.2 82.21 L422.88 81.47 L423.55 80.72 L424.22 79.9 L424.89 79.03 L425.57 78.11 L426.24 77.17 L426.91 76.24 L427.59 75.32 L428.26 74.44 L428.93 73.63 L429.6 72.89 L430.28 72.24 L430.95 71.61 L431.62 70.98 L432.3 70.38 L432.97 69.79 L433.64 69.23 L434.31 68.69 L434.99 68.19 L435.66 67.72 L436.33 67.29 L437.01 66.9 L437.68 66.57 L438.35 66.28 L439.02 66.02 L439.7 65.76 L440.37 65.5 L441.04 65.26 L441.72 65.04 L442.39 64.83 L443.06 64.66 L443.74 64.51 L444.41 64.4 L445.08 64.33 L445.75 64.3 L446.43 64.32 L447.1 64.4 L447.77 64.53 L448.45 64.7 L449.12 64.91 L449.79 65.15 L450.46 65.43 L451.14 65.73 L451.81 66.05 L452.48 66.39 L453.16 66.75 L453.83 67.11 L454.5 67.48 L455.17 67.86 L455.85 68.3 L456.52 68.81 L457.19 69.38 L457.87 70 L458.54 70.68 L459.21 71.39 L459.89 72.14 L460.56 72.9 L461.23 73.69 L461.9 74.48 L462.58 75.27 L463.25 76.06 L463.92 76.86 L464.6 77.69 L465.27 78.56 L465.94 79.45 L466.61 80.37 L467.29 81.31 L467.96 82.27 L468.63 83.24 L469.31 84.22 L469.98 85.21 L470.65 86.2 L471.32 87.19 L472 88.19 L472.67 89.19 L473.34 90.21 L474.02 91.24 L474.69 92.29 L475.36 93.34 L476.04 94.41 L476.71 95.48 L477.38 96.57 L478.05 97.67 L478.73 98.78 L479.4 99.9 L479.4 99.9 L480.08 98.53 L480.77 97.19 L481.45 95.87 L482.13 94.58 L482.82 93.31 L483.5 92.07 L484.18 90.86 L484.86 89.67 L485.55 88.51 L486.23 87.38 L486.91 86.28 L487.6 85.22 L488.28 84.18 L488.96 83.16 L489.65 82.16 L490.33 81.17 L491.01 80.2 L491.69 79.26 L492.38 78.33 L493.06 77.44 L493.74 76.58 L494.43 75.76 L495.11 74.97 L495.79 74.22 L496.48 73.52 L497.16 72.85 L497.84 72.19 L498.53 71.54 L499.21 70.91 L499.89 70.3 L500.57 69.71 L501.26 69.15 L501.94 68.62 L502.62 68.13 L503.31 67.68 L503.99 67.27 L504.67 66.91 L505.36 66.58 L506.04 66.26 L506.72 65.93 L507.41 65.62 L508.09 65.32 L508.77 65.05 L509.45 64.81 L510.14 64.61 L510.82 64.45 L511.5 64.34 L512.19 64.3 L512.41 64.3 L513.1 64.34 L513.78 64.45 L514.46 64.61 L515.15 64.81 L515.83 65.05 L516.51 65.32 L517.19 65.62 L517.88 65.93 L518.56 66.26 L519.24 66.58 L519.93 66.91 L520.61 67.27 L521.29 67.68 L521.98 68.13 L522.66 68.62 L523.34 69.15 L524.03 69.71 L524.71 70.3 L525.39 70.91 L526.07 71.54 L526.76 72.19 L527.44 72.85 L528.12 73.52 L528.81 74.22 L529.49 74.97 L530.17 75.76 L530.86 76.58 L531.54 77.44 L532.22 78.33 L532.91 79.26 L533.59 80.2 L534.27 81.17 L534.95 82.16 L535.64 83.16 L536.32 84.18 L537 85.22 L537.69 86.28 L538.37 87.38 L539.05 88.51 L539.74 89.67 L540.42 90.86 L541.1 92.07 L541.78 93.31 L542.47 94.58 L543.15 95.87 L543.83 97.19 L544.52 98.53 L545.2 99.9 L545.2 99.9 L545.87 98.78 L546.55 97.67 L547.22 96.57 L547.89 95.48 L548.56 94.41 L549.24 93.34 L549.91 92.29 L550.58 91.24 L551.26 90.21 L551.93 89.19 L552.6 88.19 L553.27 87.19 L553.95 86.2 L554.62 85.21 L555.29 84.22 L555.97 83.24 L556.64 82.27 L557.31 81.31 L557.99 80.37 L558.66 79.45 L559.33 78.56 L560 77.69 L560.68 76.86 L561.35 76.06 L562.02 75.27 L562.7 74.48 L563.37 73.69 L564.04 72.9 L564.71 72.14 L565.39 71.39 L566.06 70.68 L566.73 70 L567.41 69.38 L568.08 68.81 L568.75 68.3 L569.42 67.86 L570.1 67.48 L570.77 67.11 L571.44 66.75 L572.12 66.39 L572.79 66.05 L573.46 65.73 L574.14 65.43 L574.81 65.15 L575.48 64.91 L576.15 64.7 L576.83 64.53 L577.5 64.4 L578.17 64.32 L578.85 64.3 L579.52 64.33 L580.19 64.4 L580.86 64.51 L581.54 64.66 L582.21 64.83 L582.88 65.04 L583.56 65.26 L584.23 65.5 L584.9 65.76 L585.57 66.02 L586.25 66.28 L586.92 66.57 L587.59 66.9 L588.27 67.29 L588.94 67.72 L589.61 68.19 L590.29 68.69 L590.96 69.23 L591.63 69.79 L592.3 70.38 L592.98 70.98 L593.65 71.61 L594.32 72.24 L595 72.89 L595.67 73.63 L596.34 74.44 L597.01 75.32 L597.69 76.24 L598.36 77.17 L599.03 78.11 L599.71 79.03 L600.38 79.9 L601.05 80.72 L601.72 81.47 L602.4 82.21 L603.07 82.94 L603.74 83.66 L604.42 84.36 L605.09 85.04 L605.76 85.69 L606.44 86.31 L607.11 86.89 L607.78 87.43 L608.45 87.94 L609.13 88.43 L609.8 88.91 L610.47 89.38 L611.15 89.83 L611.82 90.26 L612.49 90.68 L613.16 91.07 L613.84 91.44 L614.51 91.79 L615.18 92.12 L615.86 92.42 L616.53 92.69 L617.2 92.95 L617.87 93.21 L618.55 93.45 L619.22 93.69 L619.89 93.91 L620.57 94.13 L621.24 94.34 L621.91 94.54 L622.59 94.74 L623.26 94.92 L623.93 95.1 L624.6 95.27 L625.28 95.43 L625.95 95.58 L626.62 95.73 L627.3 95.86 L627.97 95.99 L628.64 96.12 L629.31 96.24 L629.99 96.36 L630.66 96.48 L631.33 96.6 L632.01 96.71 L632.68 96.83 L633.35 96.93 L634.02 97.04 L634.7 97.14 L635.37 97.24 L636.04 97.33 L636.72 97.42 L637.39 97.5 L638.06 97.57 L638.74 97.64 L639.41 97.71 L640.08 97.77 L640.75 97.82 L641.43 97.86 L642.1 97.9" fill="none" stroke="#0000ff" stroke-width="1.4" />
<path d="M382.5 99.4 L383.18 99.37 L383.87 99.34 L384.55 99.3 L385.24 99.26 L385.92 99.22 L386.6 99.17 L387.29 99.12 L387.97 99.07 L388.65 99.01 L389.34 98.95 L390.02 98.89 L390.71 98.83 L391.39 98.76 L392.07 98.69 L392.76 98.62 L393.44 98.55 L394.13 98.48 L394.81 98.4 L395.49 98.33 L396.18 98.25 L396.86 98.17 L397.55 98.08 L398.23 97.99 L398.91 97.9 L399.6 97.8 L400.28 97.69 L400.96 97.58 L401.65 97.46 L402.33 97.34 L403.02 97.22 L403.7 97.09 L404.38 96.96 L405.07 96.83 L405.75 96.69 L406.44 96.55 L407.12 96.41 L407.8 96.27 L408.49 96.13 L409.17 95.98 L409.85 95.84 L410.54 95.69 L411.22 95.54 L411.91 95.4 L412.59 95.25 L413.27 95.11 L413.96 94.96 L414.64 94.81 L415.33 94.66 L416.01 94.5 L416.69 94.35 L417.38 94.19 L418.06 94.03 L418.75 93.86 L419.43 93.7 L420.11 93.53 L420.8 93.36 L421.48 93.19 L422.16 93.01 L422.85 92.84 L423.53 92.66 L424.22 92.48 L424.9 92.3 L424.9 92.3 L425.58 91.21 L426.26 90.12 L426.94 89.03 L427.61 87.95 L428.29 86.86 L428.97 85.78 L429.65 84.7 L430.33 83.61 L431.01 82.48 L431.69 81.33 L432.36 80.17 L433.04 78.99 L433.72 77.83 L434.4 76.68 L435.08 75.56 L435.76 74.49 L436.44 73.46 L437.11 72.5 L437.79 71.61 L438.47 70.8 L439.15 70.03 L439.83 69.27 L440.51 68.53 L441.19 67.82 L441.86 67.13 L442.54 66.47 L443.22 65.86 L443.9 65.28 L444.58 64.75 L445.26 64.27 L445.94 63.85 L446.61 63.49 L447.29 63.16 L447.97 62.83 L448.65 62.51 L449.33 62.22 L450.01 61.96 L450.69 61.75 L451.36 61.59 L452.04 61.51 L452.72 61.51 L453.4 61.56 L454.08 61.66 L454.76 61.8 L455.44 61.98 L456.11 62.2 L456.79 62.44 L457.47 62.71 L458.15 63 L458.83 63.3 L459.51 63.62 L460.19 63.94 L460.86 64.35 L461.54 64.83 L462.22 65.39 L462.9 66.02 L463.58 66.72 L464.26 67.47 L464.94 68.27 L465.61 69.11 L466.29 69.99 L466.97 70.9 L467.65 71.83 L468.33 72.78 L469.01 73.84 L469.69 75.03 L470.36 76.33 L471.04 77.72 L471.72 79.16 L472.4 80.64 L473.08 82.13 L473.76 83.61 L474.44 85.05 L475.11 86.43 L475.79 87.79 L476.47 89.16 L477.15 90.52 L477.83 91.89 L478.51 93.25 L479.19 94.62 L479.86 95.99 L480.54 97.36 L481.22 98.73 L481.9 100.1 L481.9 100.1 L482.59 98.63 L483.27 97.19 L483.96 95.76 L484.65 94.36 L485.34 92.99 L486.02 91.65 L486.71 90.33 L487.4 89.05 L488.09 87.8 L488.77 86.58 L489.46 85.37 L490.15 84.17 L490.83 82.98 L491.52 81.82 L492.21 80.67 L492.9 79.56 L493.58 78.47 L494.27 77.42 L494.96 76.41 L495.65 75.44 L496.33 74.52 L497.02 73.63 L497.71 72.74 L498.39 71.86 L499.08 71 L499.77 70.16 L500.46 69.34 L501.14 68.57 L501.83 67.83 L502.52 67.14 L503.21 66.5 L503.89 65.92 L504.58 65.41 L505.27 64.96 L505.95 64.52 L506.64 64.07 L507.33 63.64 L508.02 63.23 L508.7 62.85 L509.39 62.52 L510.08 62.24 L510.77 62.02 L511.45 61.87 L512.14 61.8 L512.46 61.8 L513.15 61.87 L513.83 62.02 L514.52 62.24 L515.21 62.52 L515.9 62.85 L516.58 63.23 L517.27 63.64 L517.96 64.07 L518.65 64.52 L519.33 64.96 L520.02 65.41 L520.71 65.92 L521.39 66.5 L522.08 67.14 L522.77 67.83 L523.46 68.57 L524.14 69.34 L524.83 70.16 L525.52 71 L526.21 71.86 L526.89 72.74 L527.58 73.63 L528.27 74.52 L528.95 75.44 L529.64 76.41 L530.33 77.42 L531.02 78.47 L531.7 79.56 L532.39 80.67 L533.08 81.82 L533.77 82.98 L534.45 84.17 L535.14 85.37 L535.83 86.58 L536.51 87.8 L537.2 89.05 L537.89 90.33 L538.58 91.65 L539.26 92.99 L539.95 94.36 L540.64 95.76 L541.33 97.19 L542.01 98.63 L542.7 100.1 L542.7 100.1 L543.38 98.73 L544.06 97.36 L544.74 95.99 L545.41 94.62 L546.09 93.25 L546.77 91.89 L547.45 90.52 L548.13 89.16 L548.81 87.79 L549.49 86.43 L550.16 85.05 L550.84 83.61 L551.52 82.13 L552.2 80.64 L552.88 79.16 L553.56 77.72 L554.24 76.33 L554.91 75.03 L555.59 73.84 L556.27 72.78 L556.95 71.83 L557.63 70.9 L558.31 69.99 L558.99 69.11 L559.66 68.27 L560.34 67.47 L561.02 66.72 L561.7 66.02 L562.38 65.39 L563.06 64.83 L563.74 64.35 L564.41 63.94 L565.09 63.62 L565.77 63.3 L566.45 63 L567.13 62.71 L567.81 62.44 L568.49 62.2 L569.16 61.98 L569.84 61.8 L570.52 61.66 L571.2 61.56 L571.88 61.51 L572.56 61.51 L573.24 61.59 L573.91 61.75 L574.59 61.96 L575.27 62.22 L575.95 62.51 L576.63 62.83 L577.31 63.16 L577.99 63.49 L578.66 63.85 L579.34 64.27 L580.02 64.75 L580.7 65.28 L581.38 65.86 L582.06 66.47 L582.74 67.13 L583.41 67.82 L584.09 68.53 L584.77 69.27 L585.45 70.03 L586.13 70.8 L586.81 71.61 L587.49 72.5 L588.16 73.46 L588.84 74.49 L589.52 75.56 L590.2 76.68 L590.88 77.83 L591.56 78.99 L592.24 80.17 L592.91 81.33 L593.59 82.48 L594.27 83.61 L594.95 84.7 L595.63 85.78 L596.31 86.86 L596.99 87.95 L597.66 89.03 L598.34 90.12 L599.02 91.21 L599.7 92.3 L599.7 92.3 L600.38 92.48 L601.07 92.66 L601.75 92.84 L602.44 93.01 L603.12 93.19 L603.8 93.36 L604.49 93.53 L605.17 93.7 L605.85 93.86 L606.54 94.03 L607.22 94.19 L607.91 94.35 L608.59 94.5 L609.27 94.66 L609.96 94.81 L610.64 94.96 L611.33 95.11 L612.01 95.25 L612.69 95.4 L613.38 95.54 L614.06 95.69 L614.75 95.84 L615.43 95.98 L616.11 96.13 L616.8 96.27 L617.48 96.41 L618.16 96.55 L618.85 96.69 L619.53 96.83 L620.22 96.96 L620.9 97.09 L621.58 97.22 L622.27 97.34 L622.95 97.46 L623.64 97.58 L624.32 97.69 L625 97.8 L625.69 97.9 L626.37 97.99 L627.05 98.08 L627.74 98.17 L628.42 98.25 L629.11 98.33 L629.79 98.4 L630.47 98.48 L631.16 98.55 L631.84 98.62 L632.53 98.69 L633.21 98.76 L633.89 98.83 L634.58 98.89 L635.26 98.95 L635.95 99.01 L636.63 99.07 L637.31 99.12 L638 99.17 L638.68 99.22 L639.36 99.26 L640.05 99.3 L640.73 99.34 L641.42 99.37 L642.1 99.4" fill="none" stroke="#ff0000" stroke-width="1.45" stroke-dasharray="2.2 0.95" />
<path d="M382.5 135 L383.18 134.85 L383.86 134.69 L384.53 134.53 L385.21 134.37 L385.89 134.21 L386.57 134.04 L387.25 133.87 L387.92 133.7 L388.6 133.53 L389.28 133.35 L389.96 133.17 L390.64 132.99 L391.31 132.81 L391.99 132.62 L392.67 132.43 L393.35 132.24 L394.03 132.05 L394.7 131.86 L395.38 131.66 L396.06 131.46 L396.74 131.26 L397.42 131.05 L398.09 130.84 L398.77 130.63 L399.45 130.41 L400.13 130.19 L400.81 129.97 L401.48 129.74 L402.16 129.51 L402.84 129.27 L403.52 129.03 L404.2 128.8 L404.87 128.56 L405.55 128.31 L406.23 128.07 L406.91 127.82 L407.59 127.58 L408.26 127.33 L408.94 127.08 L409.62 126.84 L410.3 126.59 L410.98 126.34 L411.65 126.09 L412.33 125.85 L413.01 125.6 L413.69 125.36 L414.37 125.1 L415.04 124.84 L415.72 124.57 L416.4 124.29 L417.08 124.02 L417.76 123.74 L418.43 123.47 L419.11 123.2 L419.79 122.94 L420.47 122.69 L421.15 122.45 L421.82 122.22 L422.5 122.02 L423.18 121.83 L423.86 121.65 L424.54 121.47 L425.21 121.29 L425.89 121.1 L426.57 120.93 L427.25 120.77 L427.93 120.64 L428.6 120.53 L429.28 120.45 L429.96 120.41 L430.64 120.41 L431.32 120.5 L431.99 120.66 L432.67 120.89 L433.35 121.17 L434.03 121.5 L434.71 121.87 L435.38 122.26 L436.06 122.67 L436.74 123.09 L437.42 123.61 L438.1 124.26 L438.77 125.01 L439.45 125.85 L440.13 126.76 L440.81 127.72 L441.49 128.7 L442.16 129.69 L442.84 130.66 L443.52 131.6 L444.2 132.55 L444.88 133.53 L445.55 134.53 L446.23 135.54 L446.91 136.59 L447.59 137.65 L448.27 138.73 L448.94 139.83 L449.62 140.96 L450.3 142.1 L450.3 142.1 L450.98 140.79 L451.66 139.51 L452.35 138.27 L453.03 137.05 L453.71 135.87 L454.39 134.73 L455.07 133.62 L455.76 132.56 L456.44 131.54 L457.12 130.54 L457.8 129.51 L458.48 128.48 L459.17 127.48 L459.85 126.5 L460.53 125.59 L461.21 124.76 L461.89 124.04 L462.58 123.43 L463.26 122.97 L463.94 122.57 L464.62 122.19 L465.3 121.83 L465.99 121.49 L466.67 121.17 L467.35 120.89 L468.03 120.66 L468.71 120.46 L469.4 120.32 L470.08 120.23 L470.76 120.2 L471.44 120.24 L472.12 120.34 L472.8 120.49 L473.49 120.7 L474.17 120.94 L474.85 121.23 L475.53 121.55 L476.21 121.89 L476.9 122.26 L477.58 122.64 L478.26 123.04 L478.94 123.52 L479.62 124.15 L480.31 124.9 L480.99 125.74 L481.67 126.65 L482.35 127.62 L483.03 128.61 L483.72 129.61 L484.4 130.6 L485.08 131.55 L485.76 132.5 L486.44 133.48 L487.13 134.48 L487.81 135.51 L488.49 136.56 L489.17 137.62 L489.85 138.71 L490.54 139.82 L491.22 140.95 L491.9 142.1 L491.9 142.1 L492.59 140.76 L493.29 139.46 L493.98 138.18 L494.68 136.95 L495.38 135.75 L496.07 134.59 L496.76 133.47 L497.46 132.39 L498.15 131.36 L498.85 130.35 L499.54 129.31 L500.24 128.28 L500.93 127.27 L501.63 126.3 L502.32 125.4 L503.02 124.58 L503.71 123.88 L504.41 123.31 L505.1 122.89 L505.8 122.51 L506.49 122.15 L507.19 121.8 L507.88 121.49 L508.58 121.2 L509.27 120.94 L509.97 120.73 L510.66 120.57 L511.36 120.46 L512.05 120.4 L512.54 120.4 L513.24 120.46 L513.93 120.57 L514.63 120.73 L515.32 120.94 L516.02 121.2 L516.71 121.49 L517.41 121.8 L518.11 122.15 L518.8 122.51 L519.49 122.89 L520.19 123.31 L520.88 123.88 L521.58 124.58 L522.27 125.4 L522.97 126.3 L523.66 127.27 L524.36 128.28 L525.05 129.31 L525.75 130.35 L526.44 131.36 L527.14 132.39 L527.83 133.47 L528.53 134.59 L529.22 135.75 L529.92 136.95 L530.62 138.18 L531.31 139.46 L532 140.76 L532.7 142.1 L532.7 142.1 L533.38 140.95 L534.06 139.82 L534.75 138.71 L535.43 137.62 L536.11 136.56 L536.79 135.51 L537.47 134.48 L538.16 133.48 L538.84 132.5 L539.52 131.55 L540.2 130.6 L540.88 129.61 L541.57 128.61 L542.25 127.62 L542.93 126.65 L543.61 125.74 L544.29 124.9 L544.98 124.15 L545.66 123.52 L546.34 123.04 L547.02 122.64 L547.7 122.26 L548.39 121.89 L549.07 121.55 L549.75 121.23 L550.43 120.94 L551.11 120.7 L551.8 120.49 L552.48 120.34 L553.16 120.24 L553.84 120.2 L554.52 120.23 L555.2 120.32 L555.89 120.46 L556.57 120.66 L557.25 120.89 L557.93 121.17 L558.61 121.49 L559.3 121.83 L559.98 122.19 L560.66 122.57 L561.34 122.97 L562.02 123.43 L562.71 124.04 L563.39 124.76 L564.07 125.59 L564.75 126.5 L565.43 127.48 L566.12 128.48 L566.8 129.51 L567.48 130.54 L568.16 131.54 L568.84 132.56 L569.53 133.62 L570.21 134.73 L570.89 135.87 L571.57 137.05 L572.25 138.27 L572.94 139.51 L573.62 140.79 L574.3 142.1 L574.3 142.1 L574.98 140.96 L575.66 139.83 L576.33 138.73 L577.01 137.65 L577.69 136.59 L578.37 135.54 L579.05 134.53 L579.72 133.53 L580.4 132.55 L581.08 131.6 L581.76 130.66 L582.44 129.69 L583.11 128.7 L583.79 127.72 L584.47 126.76 L585.15 125.85 L585.83 125.01 L586.5 124.26 L587.18 123.61 L587.86 123.09 L588.54 122.67 L589.22 122.26 L589.89 121.87 L590.57 121.5 L591.25 121.17 L591.93 120.89 L592.61 120.66 L593.28 120.5 L593.96 120.41 L594.64 120.41 L595.32 120.45 L596 120.53 L596.67 120.64 L597.35 120.77 L598.03 120.93 L598.71 121.1 L599.39 121.29 L600.06 121.47 L600.74 121.65 L601.42 121.83 L602.1 122.02 L602.78 122.22 L603.45 122.45 L604.13 122.69 L604.81 122.94 L605.49 123.2 L606.17 123.47 L606.84 123.74 L607.52 124.02 L608.2 124.29 L608.88 124.57 L609.56 124.84 L610.23 125.1 L610.91 125.36 L611.59 125.6 L612.27 125.85 L612.95 126.09 L613.62 126.34 L614.3 126.59 L614.98 126.84 L615.66 127.08 L616.34 127.33 L617.01 127.58 L617.69 127.82 L618.37 128.07 L619.05 128.31 L619.73 128.56 L620.4 128.8 L621.08 129.03 L621.76 129.27 L622.44 129.51 L623.12 129.74 L623.79 129.97 L624.47 130.19 L625.15 130.41 L625.83 130.63 L626.51 130.84 L627.18 131.05 L627.86 131.26 L628.54 131.46 L629.22 131.66 L629.9 131.86 L630.57 132.05 L631.25 132.24 L631.93 132.43 L632.61 132.62 L633.29 132.81 L633.96 132.99 L634.64 133.17 L635.32 133.35 L636 133.53 L636.68 133.7 L637.35 133.87 L638.03 134.04 L638.71 134.21 L639.39 134.37 L640.07 134.53 L640.74 134.69 L641.42 134.85 L642.1 135" fill="none" stroke="#0000ff" stroke-width="1.4" />
<path d="M382.5 129.6 L383.18 129.44 L383.85 129.28 L384.52 129.12 L385.2 128.96 L385.88 128.8 L386.55 128.64 L387.23 128.48 L387.9 128.32 L388.57 128.16 L389.25 128 L389.93 127.84 L390.6 127.68 L391.27 127.53 L391.95 127.37 L392.62 127.21 L393.3 127.06 L393.98 126.9 L394.65 126.75 L395.32 126.59 L396 126.44 L396.68 126.28 L397.35 126.13 L398.02 125.98 L398.7 125.82 L399.38 125.67 L400.05 125.52 L400.73 125.37 L401.4 125.22 L402.07 125.07 L402.75 124.92 L403.43 124.77 L404.1 124.62 L404.77 124.47 L405.45 124.32 L406.12 124.17 L406.8 124.02 L407.48 123.87 L408.15 123.73 L408.82 123.58 L409.5 123.43 L410.18 123.28 L410.85 123.14 L411.52 122.99 L412.2 122.84 L412.88 122.69 L413.55 122.55 L414.23 122.4 L414.9 122.26 L415.57 122.12 L416.25 121.98 L416.93 121.84 L417.6 121.71 L418.27 121.57 L418.95 121.43 L419.62 121.29 L420.3 121.15 L420.98 121.01 L421.65 120.86 L422.32 120.71 L423 120.56 L423.68 120.4 L424.35 120.24 L425.02 120.07 L425.7 119.87 L426.38 119.64 L427.05 119.39 L427.73 119.13 L428.4 118.86 L429.07 118.59 L429.75 118.34 L430.43 118.11 L431.1 117.92 L431.77 117.76 L432.45 117.65 L433.12 117.6 L433.8 117.62 L434.48 117.73 L435.15 117.91 L435.82 118.15 L436.5 118.45 L437.18 118.8 L437.85 119.19 L438.52 119.6 L439.2 120.04 L439.88 120.48 L440.55 121 L441.23 121.65 L441.9 122.43 L442.57 123.3 L443.25 124.26 L443.93 125.28 L444.6 126.34 L445.27 127.44 L445.95 128.54 L446.62 129.64 L447.3 130.76 L447.98 131.94 L448.65 133.18 L449.32 134.47 L450 135.81 L450.68 137.19 L451.35 138.62 L452.02 140.09 L452.7 141.6 L452.7 141.6 L453.38 140.21 L454.07 138.85 L454.75 137.52 L455.44 136.21 L456.12 134.94 L456.81 133.7 L457.49 132.5 L458.18 131.34 L458.86 130.18 L459.54 128.98 L460.23 127.78 L460.91 126.6 L461.6 125.45 L462.28 124.37 L462.97 123.39 L463.65 122.52 L464.34 121.78 L465.02 121.21 L465.71 120.7 L466.39 120.2 L467.07 119.73 L467.76 119.28 L468.44 118.86 L469.13 118.5 L469.81 118.18 L470.5 117.92 L471.18 117.74 L471.87 117.63 L472.55 117.6 L473.23 117.67 L473.92 117.81 L474.6 118.03 L475.29 118.31 L475.97 118.65 L476.66 119.04 L477.34 119.47 L478.03 119.93 L478.71 120.42 L479.39 120.92 L480.08 121.44 L480.76 122.1 L481.45 122.92 L482.13 123.87 L482.82 124.93 L483.5 126.07 L484.19 127.26 L484.87 128.48 L485.56 129.69 L486.24 130.87 L486.92 132 L487.61 133.16 L488.29 134.34 L488.98 135.55 L489.66 136.77 L490.35 138.02 L491.03 139.3 L491.72 140.59 L492.4 141.9 L492.4 141.9 L493.1 140.35 L493.8 138.84 L494.5 137.37 L495.2 135.95 L495.9 134.58 L496.6 133.27 L497.3 132.02 L498 130.83 L498.7 129.68 L499.4 128.53 L500.1 127.38 L500.8 126.27 L501.5 125.2 L502.2 124.19 L502.9 123.27 L503.6 122.46 L504.3 121.77 L505 121.23 L505.7 120.75 L506.4 120.28 L507.1 119.82 L507.8 119.4 L508.5 119.01 L509.2 118.67 L509.9 118.38 L510.6 118.15 L511.3 117.99 L512 117.91 L512.6 117.91 L513.3 117.99 L514 118.15 L514.7 118.38 L515.4 118.67 L516.1 119.01 L516.8 119.4 L517.5 119.82 L518.2 120.28 L518.9 120.75 L519.6 121.23 L520.3 121.77 L521 122.46 L521.7 123.27 L522.4 124.19 L523.1 125.2 L523.8 126.27 L524.5 127.38 L525.2 128.53 L525.9 129.68 L526.6 130.83 L527.3 132.02 L528 133.27 L528.7 134.58 L529.4 135.95 L530.1 137.37 L530.8 138.84 L531.5 140.35 L532.2 141.9 L532.2 141.9 L532.88 140.59 L533.57 139.3 L534.25 138.02 L534.94 136.77 L535.62 135.55 L536.31 134.34 L536.99 133.16 L537.68 132 L538.36 130.87 L539.04 129.69 L539.73 128.48 L540.41 127.26 L541.1 126.07 L541.78 124.93 L542.47 123.87 L543.15 122.92 L543.84 122.1 L544.52 121.44 L545.21 120.92 L545.89 120.42 L546.57 119.93 L547.26 119.47 L547.94 119.04 L548.63 118.65 L549.31 118.31 L550 118.03 L550.68 117.81 L551.37 117.67 L552.05 117.6 L552.73 117.63 L553.42 117.74 L554.1 117.92 L554.79 118.18 L555.47 118.5 L556.16 118.86 L556.84 119.28 L557.53 119.73 L558.21 120.2 L558.89 120.7 L559.58 121.21 L560.26 121.78 L560.95 122.52 L561.63 123.39 L562.32 124.37 L563 125.45 L563.69 126.6 L564.37 127.78 L565.06 128.98 L565.74 130.18 L566.42 131.34 L567.11 132.5 L567.79 133.7 L568.48 134.94 L569.16 136.21 L569.85 137.52 L570.53 138.85 L571.22 140.21 L571.9 141.6 L571.9 141.6 L572.57 140.09 L573.25 138.62 L573.92 137.19 L574.6 135.81 L575.27 134.47 L575.95 133.18 L576.62 131.94 L577.3 130.76 L577.97 129.64 L578.65 128.54 L579.32 127.44 L580 126.34 L580.67 125.28 L581.35 124.26 L582.02 123.3 L582.7 122.43 L583.37 121.65 L584.05 121 L584.72 120.48 L585.4 120.04 L586.07 119.6 L586.75 119.19 L587.42 118.8 L588.1 118.45 L588.77 118.15 L589.45 117.91 L590.12 117.73 L590.8 117.62 L591.47 117.6 L592.15 117.65 L592.82 117.76 L593.5 117.92 L594.17 118.11 L594.85 118.34 L595.52 118.59 L596.2 118.86 L596.87 119.13 L597.55 119.39 L598.22 119.64 L598.9 119.87 L599.57 120.07 L600.25 120.24 L600.92 120.4 L601.6 120.56 L602.27 120.71 L602.95 120.86 L603.62 121.01 L604.3 121.15 L604.97 121.29 L605.65 121.43 L606.32 121.57 L607 121.71 L607.67 121.84 L608.35 121.98 L609.02 122.12 L609.7 122.26 L610.37 122.4 L611.05 122.55 L611.72 122.69 L612.4 122.84 L613.07 122.99 L613.75 123.14 L614.42 123.28 L615.1 123.43 L615.77 123.58 L616.45 123.73 L617.12 123.87 L617.8 124.02 L618.47 124.17 L619.15 124.32 L619.82 124.47 L620.5 124.62 L621.17 124.77 L621.85 124.92 L622.52 125.07 L623.2 125.22 L623.87 125.37 L624.55 125.52 L625.22 125.67 L625.9 125.82 L626.57 125.98 L627.25 126.13 L627.92 126.28 L628.6 126.44 L629.27 126.59 L629.95 126.75 L630.62 126.9 L631.3 127.06 L631.97 127.21 L632.65 127.37 L633.32 127.53 L634 127.68 L634.67 127.84 L635.35 128 L636.02 128.16 L636.7 128.32 L637.37 128.48 L638.05 128.64 L638.72 128.8 L639.4 128.96 L640.07 129.12 L640.75 129.28 L641.42 129.44 L642.1 129.6" fill="none" stroke="#ff0000" stroke-width="1.45" stroke-dasharray="2.2 0.95" />
<path d="M382.4 147.5 L382.9 147.81 L383.4 148.11 L383.9 148.42 L384.4 148.72 L384.9 149.01 L385.4 149.31 L385.9 149.6 L386.4 149.89 L386.91 150.18 L387.41 150.46 L387.91 150.75 L388.41 151.02 L388.91 151.3 L389.41 151.57 L389.91 151.84 L390.41 152.1 L390.91 152.36 L391.41 152.62 L391.91 152.87 L392.41 153.12 L392.91 153.37 L393.41 153.61 L393.91 153.85 L394.41 154.08 L394.91 154.31 L395.42 154.54 L395.92 154.76 L396.42 154.97 L396.92 155.18 L397.42 155.39 L397.92 155.59 L398.42 155.79 L398.92 155.98 L399.42 156.17 L399.92 156.35 L400.42 156.53 L400.92 156.71 L401.42 156.88 L401.92 157.05 L402.42 157.22 L402.92 157.39 L403.42 157.56 L403.92 157.72 L404.43 157.88 L404.93 158.04 L405.43 158.21 L405.93 158.37 L406.43 158.53 L406.93 158.69 L407.43 158.85 L407.93 159.01 L408.43 159.17 L408.93 159.33 L409.43 159.5 L409.93 159.67 L410.43 159.83 L410.93 160 L411.43 160.18 L411.93 160.35 L412.43 160.53 L412.94 160.71 L413.44 160.9 L413.94 161.09 L414.44 161.28 L414.94 161.47 L415.44 161.66 L415.94 161.85 L416.44 162.04 L416.94 162.24 L417.44 162.44 L417.94 162.63 L418.44 162.83 L418.94 163.03 L419.44 163.23 L419.94 163.43 L420.44 163.63 L420.94 163.83 L421.45 164.04 L421.95 164.24 L422.45 164.45 L422.95 164.65 L423.45 164.86 L423.95 165.07 L424.45 165.28 L424.95 165.49 L425.45 165.7 L425.95 165.91 L426.45 166.12 L426.95 166.28 L427.45 166.43 L427.95 166.62 L428.45 166.83 L428.95 167.06 L429.45 167.33 L429.95 167.61 L430.46 167.93 L430.96 168.26 L431.46 168.61 L431.96 168.98 L432.46 169.36 L432.96 169.75 L433.46 170.16 L433.96 170.57 L434.46 170.97 L434.96 171.38 L435.46 171.78 L435.96 172.17 L436.46 172.53 L436.96 172.88 L437.46 173.19 L437.96 173.47 L438.46 173.7 L438.97 173.88 L439.47 174.01 L439.97 174.09 L440.47 174.11 L440.97 174.07 L441.47 173.97 L441.97 173.82 L442.47 173.63 L442.97 173.39 L443.47 173.12 L443.97 172.82 L444.47 172.5 L444.97 172.16 L445.47 171.82 L445.97 171.47 L446.47 171.12 L446.97 170.77 L447.48 170.43 L447.98 170.11 L448.48 169.8 L448.98 169.51 L449.48 169.24 L449.98 169 L450.48 168.78 L450.98 168.58 L451.48 168.41 L451.98 168.28 L452.48 168.17 L452.98 168.1 L453.48 168.06 L453.98 168.05 L454.48 168.07 L454.98 168.13 L455.48 168.22 L455.98 168.34 L456.49 168.5 L456.99 168.69 L457.49 168.91 L457.99 169.16 L458.49 169.45 L458.99 169.76 L459.49 170.1 L459.99 170.47 L460.49 170.86 L460.99 171.28 L461.49 171.71 L461.99 172.17 L462.49 172.64 L462.99 173.12 L463.49 173.62 L463.99 174.12 L464.49 174.61 L465 175.11 L465.5 175.59 L466 176.04 L466.5 176.47 L467 176.85 L467.5 177.17 L468 177.42 L468.5 177.59 L469 177.66 L469.5 177.62 L470 177.49 L470.5 177.28 L471 176.98 L471.5 176.63 L472 176.24 L472.5 175.81 L473 175.35 L473.51 174.89 L474.01 174.42 L474.51 173.95 L475.01 173.49 L475.51 173.04 L476.01 172.6 L476.51 172.18 L477.01 171.78 L477.51 171.4 L478.01 171.05 L478.51 170.73 L479.01 170.44 L479.51 170.17 L480.01 169.94 L480.51 169.74 L481.01 169.57 L481.51 169.44 L482.02 169.34 L482.52 169.28 L483.02 169.26 L483.52 169.27 L484.02 169.31 L484.52 169.4 L485.02 169.52 L485.52 169.68 L486.02 169.87 L486.52 170.09 L487.02 170.36 L487.52 170.65 L488.02 170.98 L488.52 171.34 L489.02 171.73 L489.52 172.15 L490.02 172.6 L490.52 173.08 L491.03 173.58 L491.53 174.11 L492.03 174.65 L492.53 175.22 L493.03 175.81 L493.53 176.41 L494.03 177.02 L494.53 177.63 L495.03 178.26 L495.53 178.87 L496.03 179.47 L496.53 180.03 L497.03 180.52 L497.53 180.84 L498.03 180.9 L498.53 180.68 L499.03 180.25 L499.54 179.72 L500.04 179.14 L500.54 178.53 L501.04 177.92 L501.54 177.3 L502.04 176.7 L502.54 176.1 L503.04 175.52 L503.54 174.95 L504.04 174.41 L504.54 173.89 L505.04 173.39 L505.54 172.91 L506.04 172.47 L506.54 172.05 L507.04 171.66 L507.54 171.31 L508.05 170.98 L508.55 170.69 L509.05 170.43 L509.55 170.21 L510.05 170.03 L510.55 169.88 L511.05 169.77 L511.55 169.69 L512.05 169.65 L512.55 169.65 L513.05 169.69 L513.55 169.77 L514.05 169.88 L514.55 170.03 L515.05 170.21 L515.55 170.43 L516.05 170.69 L516.55 170.98 L517.06 171.31 L517.56 171.66 L518.06 172.05 L518.56 172.47 L519.06 172.91 L519.56 173.39 L520.06 173.89 L520.56 174.41 L521.06 174.95 L521.56 175.52 L522.06 176.1 L522.56 176.7 L523.06 177.3 L523.56 177.92 L524.06 178.53 L524.56 179.14 L525.06 179.72 L525.57 180.25 L526.07 180.68 L526.57 180.9 L527.07 180.84 L527.57 180.52 L528.07 180.03 L528.57 179.47 L529.07 178.87 L529.57 178.26 L530.07 177.63 L530.57 177.02 L531.07 176.41 L531.57 175.81 L532.07 175.22 L532.57 174.65 L533.07 174.11 L533.57 173.58 L534.08 173.08 L534.58 172.6 L535.08 172.15 L535.58 171.73 L536.08 171.34 L536.58 170.98 L537.08 170.65 L537.58 170.36 L538.08 170.09 L538.58 169.87 L539.08 169.68 L539.58 169.52 L540.08 169.4 L540.58 169.31 L541.08 169.27 L541.58 169.26 L542.08 169.28 L542.58 169.34 L543.09 169.44 L543.59 169.57 L544.09 169.74 L544.59 169.94 L545.09 170.17 L545.59 170.44 L546.09 170.73 L546.59 171.05 L547.09 171.4 L547.59 171.78 L548.09 172.18 L548.59 172.6 L549.09 173.04 L549.59 173.49 L550.09 173.95 L550.59 174.42 L551.09 174.89 L551.6 175.35 L552.1 175.81 L552.6 176.24 L553.1 176.63 L553.6 176.98 L554.1 177.28 L554.6 177.49 L555.1 177.62 L555.6 177.66 L556.1 177.59 L556.6 177.42 L557.1 177.17 L557.6 176.85 L558.1 176.47 L558.6 176.04 L559.1 175.59 L559.6 175.11 L560.11 174.61 L560.61 174.12 L561.11 173.62 L561.61 173.12 L562.11 172.64 L562.61 172.17 L563.11 171.71 L563.61 171.28 L564.11 170.86 L564.61 170.47 L565.11 170.1 L565.61 169.76 L566.11 169.45 L566.61 169.16 L567.11 168.91 L567.61 168.69 L568.11 168.5 L568.62 168.34 L569.12 168.22 L569.62 168.13 L570.12 168.07 L570.62 168.05 L571.12 168.06 L571.62 168.1 L572.12 168.17 L572.62 168.28 L573.12 168.41 L573.62 168.58 L574.12 168.78 L574.62 169 L575.12 169.24 L575.62 169.51 L576.12 169.8 L576.62 170.11 L577.12 170.43 L577.63 170.77 L578.13 171.12 L578.63 171.47 L579.13 171.82 L579.63 172.16 L580.13 172.5 L580.63 172.82 L581.13 173.12 L581.63 173.39 L582.13 173.63 L582.63 173.82 L583.13 173.97 L583.63 174.07 L584.13 174.11 L584.63 174.09 L585.13 174.01 L585.63 173.88 L586.14 173.7 L586.64 173.47 L587.14 173.19 L587.64 172.88 L588.14 172.53 L588.64 172.17 L589.14 171.78 L589.64 171.38 L590.14 170.97 L590.64 170.57 L591.14 170.16 L591.64 169.75 L592.14 169.36 L592.64 168.98 L593.14 168.61 L593.64 168.26 L594.14 167.93 L594.65 167.61 L595.15 167.33 L595.65 167.06 L596.15 166.83 L596.65 166.62 L597.15 166.43 L597.65 166.28 L598.15 166.12 L598.65 165.91 L599.15 165.7 L599.65 165.49 L600.15 165.28 L600.65 165.07 L601.15 164.86 L601.65 164.65 L602.15 164.45 L602.65 164.24 L603.15 164.04 L603.66 163.83 L604.16 163.63 L604.66 163.43 L605.16 163.23 L605.66 163.03 L606.16 162.83 L606.66 162.63 L607.16 162.44 L607.66 162.24 L608.16 162.04 L608.66 161.85 L609.16 161.66 L609.66 161.47 L610.16 161.28 L610.66 161.09 L611.16 160.9 L611.66 160.71 L612.17 160.53 L612.67 160.35 L613.17 160.18 L613.67 160 L614.17 159.83 L614.67 159.67 L615.17 159.5 L615.67 159.33 L616.17 159.17 L616.67 159.01 L617.17 158.85 L617.67 158.69 L618.17 158.53 L618.67 158.37 L619.17 158.21 L619.67 158.04 L620.17 157.88 L620.68 157.72 L621.18 157.56 L621.68 157.39 L622.18 157.22 L622.68 157.05 L623.18 156.88 L623.68 156.71 L624.18 156.53 L624.68 156.35 L625.18 156.17 L625.68 155.98 L626.18 155.79 L626.68 155.59 L627.18 155.39 L627.68 155.18 L628.18 154.97 L628.68 154.76 L629.18 154.54 L629.69 154.31 L630.19 154.08 L630.69 153.85 L631.19 153.61 L631.69 153.37 L632.19 153.12 L632.69 152.87 L633.19 152.62 L633.69 152.36 L634.19 152.1 L634.69 151.84 L635.19 151.57 L635.69 151.3 L636.19 151.02 L636.69 150.75 L637.19 150.46 L637.69 150.18 L638.2 149.89 L638.7 149.6 L639.2 149.31 L639.7 149.01 L640.2 148.72 L640.7 148.42 L641.2 148.11 L641.7 147.81 L642.2 147.5" fill="none" stroke="#0000ff" stroke-width="1.4" />
<path d="M382.5 150 L383.18 150.38 L383.87 150.75 L384.55 151.12 L385.23 151.48 L385.92 151.84 L386.6 152.19 L387.29 152.54 L387.97 152.88 L388.65 153.22 L389.34 153.55 L390.02 153.87 L390.7 154.19 L391.39 154.5 L392.07 154.8 L392.75 155.1 L393.44 155.38 L394.12 155.66 L394.8 155.93 L395.49 156.19 L396.17 156.45 L396.86 156.69 L397.54 156.93 L398.22 157.16 L398.91 157.39 L399.59 157.61 L400.27 157.83 L400.96 158.05 L401.64 158.26 L402.32 158.46 L403.01 158.67 L403.69 158.87 L404.37 159.06 L405.06 159.25 L405.74 159.44 L406.43 159.62 L407.11 159.8 L407.79 159.98 L408.48 160.16 L409.16 160.33 L409.84 160.49 L410.53 160.66 L411.21 160.82 L411.89 160.98 L412.58 161.14 L413.26 161.29 L413.94 161.44 L414.63 161.59 L415.31 161.74 L416 161.89 L416.68 162.03 L417.36 162.17 L418.05 162.31 L418.73 162.45 L419.41 162.59 L420.1 162.72 L420.78 162.85 L421.46 162.98 L422.15 163.1 L422.83 163.23 L423.51 163.34 L424.2 163.46 L424.88 163.58 L425.57 163.69 L426.25 163.79 L426.93 163.9 L427.62 164 L428.3 164.1 L428.3 164.1 L428.99 163.2 L429.69 162.25 L430.38 161.25 L431.07 160.21 L431.77 159.13 L432.46 158 L433.16 156.84 L433.85 155.57 L434.54 154.08 L435.24 152.47 L435.93 150.85 L436.62 149.33 L437.32 148.01 L438.01 147 L438.71 146.33 L439.4 145.72 L440.09 145.14 L440.79 144.62 L441.48 144.16 L442.18 143.78 L442.87 143.51 L443.56 143.34 L444.26 143.31 L444.95 143.46 L445.64 143.81 L446.34 144.31 L447.03 144.95 L447.73 145.68 L448.42 146.49 L449.11 147.33 L449.81 148.19 L450.5 149.14 L451.19 150.33 L451.89 151.71 L452.58 153.22 L453.28 154.78 L453.97 156.33 L454.66 157.82 L455.36 159.21 L456.05 160.59 L456.74 161.97 L457.44 163.35 L458.13 164.73 L458.83 166.1 L459.52 167.48 L460.21 168.85 L460.91 170.23 L461.6 171.6 L461.6 171.6 L462.28 170.17 L462.97 168.75 L463.65 167.36 L464.34 165.98 L465.02 164.63 L465.71 163.3 L466.39 161.99 L467.07 160.69 L467.76 159.34 L468.44 157.97 L469.13 156.59 L469.81 155.25 L470.5 153.97 L471.18 152.77 L471.86 151.68 L472.55 150.74 L473.23 149.97 L473.92 149.27 L474.6 148.58 L475.29 147.92 L475.97 147.31 L476.65 146.77 L477.34 146.33 L478.02 146.01 L478.71 145.83 L479.39 145.82 L480.08 146.04 L480.76 146.47 L481.45 147.08 L482.13 147.82 L482.81 148.67 L483.5 149.6 L484.18 150.57 L484.87 151.55 L485.55 152.65 L486.24 154.01 L486.92 155.59 L487.6 157.33 L488.29 159.2 L488.97 161.15 L489.66 163.13 L490.34 165.11 L491.03 167.03 L491.71 168.85 L492.39 170.66 L493.08 172.5 L493.76 174.35 L494.45 176.21 L495.13 178.09 L495.82 179.99 L496.5 181.9 L496.5 181.9 L497.2 179.94 L497.9 177.99 L498.6 176.06 L499.3 174.15 L500 172.27 L500.7 170.4 L501.4 168.56 L502.1 166.71 L502.8 164.79 L503.5 162.85 L504.2 160.92 L504.9 159.02 L505.6 157.2 L506.3 155.48 L507 153.9 L507.7 152.49 L508.4 151.26 L509.1 150.04 L509.8 148.82 L510.5 147.73 L511.2 146.88 L511.9 146.38 L512.7 146.38 L513.4 146.88 L514.1 147.73 L514.8 148.82 L515.5 150.04 L516.2 151.26 L516.9 152.49 L517.6 153.9 L518.3 155.48 L519 157.2 L519.7 159.02 L520.4 160.92 L521.1 162.85 L521.8 164.79 L522.5 166.71 L523.2 168.56 L523.9 170.4 L524.6 172.27 L525.3 174.15 L526 176.06 L526.7 177.99 L527.4 179.94 L528.1 181.9 L528.1 181.9 L528.78 179.99 L529.47 178.09 L530.15 176.21 L530.84 174.35 L531.52 172.5 L532.21 170.66 L532.89 168.85 L533.57 167.03 L534.26 165.11 L534.94 163.13 L535.63 161.15 L536.31 159.2 L537 157.33 L537.68 155.59 L538.36 154.01 L539.05 152.65 L539.73 151.55 L540.42 150.57 L541.1 149.6 L541.79 148.67 L542.47 147.82 L543.15 147.08 L543.84 146.47 L544.52 146.04 L545.21 145.82 L545.89 145.83 L546.58 146.01 L547.26 146.33 L547.95 146.77 L548.63 147.31 L549.31 147.92 L550 148.58 L550.68 149.27 L551.37 149.97 L552.05 150.74 L552.74 151.68 L553.42 152.77 L554.1 153.97 L554.79 155.25 L555.47 156.59 L556.16 157.97 L556.84 159.34 L557.53 160.69 L558.21 161.99 L558.89 163.3 L559.58 164.63 L560.26 165.98 L560.95 167.36 L561.63 168.75 L562.32 170.17 L563 171.6 L563 171.6 L563.69 170.23 L564.39 168.85 L565.08 167.48 L565.77 166.1 L566.47 164.73 L567.16 163.35 L567.86 161.97 L568.55 160.59 L569.24 159.21 L569.94 157.82 L570.63 156.33 L571.32 154.78 L572.02 153.22 L572.71 151.71 L573.41 150.33 L574.1 149.14 L574.79 148.19 L575.49 147.33 L576.18 146.49 L576.87 145.68 L577.57 144.95 L578.26 144.31 L578.96 143.81 L579.65 143.46 L580.34 143.31 L581.04 143.34 L581.73 143.51 L582.42 143.78 L583.12 144.16 L583.81 144.62 L584.51 145.14 L585.2 145.72 L585.89 146.33 L586.59 147 L587.28 148.01 L587.97 149.33 L588.67 150.85 L589.36 152.47 L590.06 154.08 L590.75 155.57 L591.44 156.84 L592.14 158 L592.83 159.13 L593.52 160.21 L594.22 161.25 L594.91 162.25 L595.61 163.2 L596.3 164.1 L596.3 164.1 L596.98 164 L597.67 163.9 L598.35 163.79 L599.03 163.69 L599.72 163.58 L600.4 163.46 L601.09 163.34 L601.77 163.23 L602.45 163.1 L603.14 162.98 L603.82 162.85 L604.5 162.72 L605.19 162.59 L605.87 162.45 L606.55 162.31 L607.24 162.17 L607.92 162.03 L608.6 161.89 L609.29 161.74 L609.97 161.59 L610.66 161.44 L611.34 161.29 L612.02 161.14 L612.71 160.98 L613.39 160.82 L614.07 160.66 L614.76 160.49 L615.44 160.33 L616.12 160.16 L616.81 159.98 L617.49 159.8 L618.17 159.62 L618.86 159.44 L619.54 159.25 L620.23 159.06 L620.91 158.87 L621.59 158.67 L622.28 158.46 L622.96 158.26 L623.64 158.05 L624.33 157.83 L625.01 157.61 L625.69 157.39 L626.38 157.16 L627.06 156.93 L627.74 156.69 L628.43 156.45 L629.11 156.19 L629.8 155.93 L630.48 155.66 L631.16 155.38 L631.85 155.1 L632.53 154.8 L633.21 154.5 L633.9 154.19 L634.58 153.87 L635.26 153.55 L635.95 153.22 L636.63 152.88 L637.31 152.54 L638 152.19 L638.68 151.84 L639.37 151.48 L640.05 151.12 L640.73 150.75 L641.42 150.38 L642.1 150" fill="none" stroke="#ff0000" stroke-width="1.45" stroke-dasharray="2.2 0.95" />
<path d="M382.4 204.2 L382.9 204.4 L383.4 204.6 L383.9 204.79 L384.4 204.99 L384.9 205.18 L385.4 205.37 L385.9 205.56 L386.4 205.75 L386.91 205.94 L387.41 206.13 L387.91 206.31 L388.41 206.49 L388.91 206.67 L389.41 206.85 L389.91 207.03 L390.41 207.2 L390.91 207.38 L391.41 207.55 L391.91 207.72 L392.41 207.88 L392.91 208.05 L393.41 208.21 L393.91 208.37 L394.41 208.53 L394.91 208.69 L395.42 208.84 L395.92 209 L396.42 209.15 L396.92 209.29 L397.42 209.44 L397.92 209.58 L398.42 209.73 L398.92 209.87 L399.42 210.01 L399.92 210.15 L400.42 210.29 L400.92 210.43 L401.42 210.56 L401.92 210.7 L402.42 210.83 L402.92 210.96 L403.42 211.09 L403.92 211.22 L404.43 211.35 L404.93 211.48 L405.43 211.6 L405.93 211.73 L406.43 211.85 L406.93 211.97 L407.43 212.09 L407.93 212.21 L408.43 212.33 L408.93 212.44 L409.43 212.56 L409.93 212.67 L410.43 212.78 L410.93 212.89 L411.43 213 L411.93 213.11 L412.43 213.22 L412.94 213.32 L413.44 213.43 L413.94 213.53 L414.44 213.63 L414.94 213.73 L415.44 213.83 L415.94 213.93 L416.44 214.03 L416.94 214.13 L417.44 214.22 L417.94 214.32 L418.44 214.41 L418.94 214.5 L419.44 214.59 L419.94 214.68 L420.44 214.77 L420.94 214.86 L421.45 214.95 L421.95 215.03 L422.45 215.12 L422.95 215.2 L423.45 215.28 L423.95 215.36 L424.45 215.44 L424.95 215.52 L425.45 215.59 L425.95 215.67 L426.45 215.68 L426.95 215.68 L427.45 215.69 L427.95 215.71 L428.45 215.76 L428.95 215.81 L429.45 215.89 L429.95 215.98 L430.46 216.09 L430.96 216.21 L431.46 216.34 L431.96 216.49 L432.46 216.65 L432.96 216.82 L433.46 216.99 L433.96 217.17 L434.46 217.35 L434.96 217.52 L435.46 217.7 L435.96 217.86 L436.46 218.02 L436.96 218.15 L437.46 218.28 L437.96 218.38 L438.46 218.46 L438.97 218.51 L439.47 218.54 L439.97 218.55 L440.47 218.53 L440.97 218.49 L441.47 218.42 L441.97 218.35 L442.47 218.26 L442.97 218.16 L443.47 218.05 L443.97 217.94 L444.47 217.83 L444.97 217.73 L445.47 217.63 L445.97 217.54 L446.47 217.46 L446.97 217.4 L447.48 217.36 L447.98 217.33 L448.48 217.32 L448.98 217.32 L449.48 217.35 L449.98 217.4 L450.48 217.47 L450.98 217.56 L451.48 217.67 L451.98 217.79 L452.48 217.94 L452.98 218.1 L453.48 218.27 L453.98 218.46 L454.48 218.66 L454.98 218.87 L455.48 219.08 L455.98 219.29 L456.49 219.49 L456.99 219.69 L457.49 219.88 L457.99 220.04 L458.49 220.19 L458.99 220.3 L459.49 220.39 L459.99 220.43 L460.49 220.44 L460.99 220.41 L461.49 220.35 L461.99 220.26 L462.49 220.14 L462.99 220 L463.49 219.84 L463.99 219.68 L464.49 219.51 L465 219.35 L465.5 219.18 L466 219.03 L466.5 218.89 L467 218.76 L467.5 218.65 L468 218.55 L468.5 218.48 L469 218.43 L469.5 218.4 L470 218.39 L470.5 218.41 L471 218.45 L471.5 218.52 L472 218.6 L472.5 218.72 L473 218.85 L473.51 219.01 L474.01 219.19 L474.51 219.38 L475.01 219.6 L475.51 219.83 L476.01 220.07 L476.51 220.32 L477.01 220.58 L477.51 220.83 L478.01 221.09 L478.51 221.33 L479.01 221.56 L479.51 221.75 L480.01 221.91 L480.51 222.01 L481.01 222.05 L481.51 222.03 L482.02 221.94 L482.52 221.8 L483.02 221.62 L483.52 221.42 L484.02 221.19 L484.52 220.95 L485.02 220.72 L485.52 220.48 L486.02 220.25 L486.52 220.04 L487.02 219.84 L487.52 219.66 L488.02 219.49 L488.52 219.35 L489.02 219.23 L489.52 219.14 L490.02 219.07 L490.52 219.02 L491.03 219 L491.53 219.01 L492.03 219.05 L492.53 219.11 L493.03 219.2 L493.53 219.31 L494.03 219.45 L494.53 219.61 L495.03 219.8 L495.53 220.01 L496.03 220.25 L496.53 220.5 L497.03 220.77 L497.53 221.06 L498.03 221.36 L498.53 221.68 L499.03 222 L499.54 222.33 L500.04 222.66 L500.54 222.98 L501.04 223.26 L501.54 223.46 L502.04 223.49 L502.54 223.35 L503.04 223.09 L503.54 222.79 L504.04 222.47 L504.54 222.14 L505.04 221.82 L505.54 221.51 L506.04 221.21 L506.54 220.92 L507.04 220.65 L507.54 220.4 L508.05 220.17 L508.55 219.96 L509.05 219.78 L509.55 219.61 L510.05 219.48 L510.55 219.37 L511.05 219.29 L511.55 219.23 L512.05 219.2 L512.55 219.2 L513.05 219.23 L513.55 219.29 L514.05 219.37 L514.55 219.48 L515.05 219.61 L515.55 219.78 L516.05 219.96 L516.55 220.17 L517.06 220.4 L517.56 220.65 L518.06 220.92 L518.56 221.21 L519.06 221.51 L519.56 221.82 L520.06 222.14 L520.56 222.47 L521.06 222.79 L521.56 223.09 L522.06 223.35 L522.56 223.49 L523.06 223.46 L523.56 223.26 L524.06 222.98 L524.56 222.66 L525.06 222.33 L525.57 222 L526.07 221.68 L526.57 221.36 L527.07 221.06 L527.57 220.77 L528.07 220.5 L528.57 220.25 L529.07 220.01 L529.57 219.8 L530.07 219.61 L530.57 219.45 L531.07 219.31 L531.57 219.2 L532.07 219.11 L532.57 219.05 L533.07 219.01 L533.57 219 L534.08 219.02 L534.58 219.07 L535.08 219.14 L535.58 219.23 L536.08 219.35 L536.58 219.49 L537.08 219.66 L537.58 219.84 L538.08 220.04 L538.58 220.25 L539.08 220.48 L539.58 220.72 L540.08 220.95 L540.58 221.19 L541.08 221.42 L541.58 221.62 L542.08 221.8 L542.58 221.94 L543.09 222.03 L543.59 222.05 L544.09 222.01 L544.59 221.91 L545.09 221.75 L545.59 221.56 L546.09 221.33 L546.59 221.09 L547.09 220.83 L547.59 220.58 L548.09 220.32 L548.59 220.07 L549.09 219.83 L549.59 219.6 L550.09 219.38 L550.59 219.19 L551.09 219.01 L551.6 218.85 L552.1 218.72 L552.6 218.6 L553.1 218.52 L553.6 218.45 L554.1 218.41 L554.6 218.39 L555.1 218.4 L555.6 218.43 L556.1 218.48 L556.6 218.55 L557.1 218.65 L557.6 218.76 L558.1 218.89 L558.6 219.03 L559.1 219.18 L559.6 219.35 L560.11 219.51 L560.61 219.68 L561.11 219.84 L561.61 220 L562.11 220.14 L562.61 220.26 L563.11 220.35 L563.61 220.41 L564.11 220.44 L564.61 220.43 L565.11 220.39 L565.61 220.3 L566.11 220.19 L566.61 220.04 L567.11 219.88 L567.61 219.69 L568.11 219.49 L568.62 219.29 L569.12 219.08 L569.62 218.87 L570.12 218.66 L570.62 218.46 L571.12 218.27 L571.62 218.1 L572.12 217.94 L572.62 217.79 L573.12 217.67 L573.62 217.56 L574.12 217.47 L574.62 217.4 L575.12 217.35 L575.62 217.32 L576.12 217.32 L576.62 217.33 L577.12 217.36 L577.63 217.4 L578.13 217.46 L578.63 217.54 L579.13 217.63 L579.63 217.73 L580.13 217.83 L580.63 217.94 L581.13 218.05 L581.63 218.16 L582.13 218.26 L582.63 218.35 L583.13 218.42 L583.63 218.49 L584.13 218.53 L584.63 218.55 L585.13 218.54 L585.63 218.51 L586.14 218.46 L586.64 218.38 L587.14 218.28 L587.64 218.15 L588.14 218.02 L588.64 217.86 L589.14 217.7 L589.64 217.52 L590.14 217.35 L590.64 217.17 L591.14 216.99 L591.64 216.82 L592.14 216.65 L592.64 216.49 L593.14 216.34 L593.64 216.21 L594.14 216.09 L594.65 215.98 L595.15 215.89 L595.65 215.81 L596.15 215.76 L596.65 215.71 L597.15 215.69 L597.65 215.68 L598.15 215.68 L598.65 215.67 L599.15 215.59 L599.65 215.52 L600.15 215.44 L600.65 215.36 L601.15 215.28 L601.65 215.2 L602.15 215.12 L602.65 215.03 L603.15 214.95 L603.66 214.86 L604.16 214.77 L604.66 214.68 L605.16 214.59 L605.66 214.5 L606.16 214.41 L606.66 214.32 L607.16 214.22 L607.66 214.13 L608.16 214.03 L608.66 213.93 L609.16 213.83 L609.66 213.73 L610.16 213.63 L610.66 213.53 L611.16 213.43 L611.66 213.32 L612.17 213.22 L612.67 213.11 L613.17 213 L613.67 212.89 L614.17 212.78 L614.67 212.67 L615.17 212.56 L615.67 212.44 L616.17 212.33 L616.67 212.21 L617.17 212.09 L617.67 211.97 L618.17 211.85 L618.67 211.73 L619.17 211.6 L619.67 211.48 L620.17 211.35 L620.68 211.22 L621.18 211.09 L621.68 210.96 L622.18 210.83 L622.68 210.7 L623.18 210.56 L623.68 210.43 L624.18 210.29 L624.68 210.15 L625.18 210.01 L625.68 209.87 L626.18 209.73 L626.68 209.58 L627.18 209.44 L627.68 209.29 L628.18 209.15 L628.68 209 L629.18 208.84 L629.69 208.69 L630.19 208.53 L630.69 208.37 L631.19 208.21 L631.69 208.05 L632.19 207.88 L632.69 207.72 L633.19 207.55 L633.69 207.38 L634.19 207.2 L634.69 207.03 L635.19 206.85 L635.69 206.67 L636.19 206.49 L636.69 206.31 L637.19 206.13 L637.69 205.94 L638.2 205.75 L638.7 205.56 L639.2 205.37 L639.7 205.18 L640.2 204.99 L640.7 204.79 L641.2 204.6 L641.7 204.4 L642.2 204.2" fill="none" stroke="#0000ff" stroke-width="1.4" />
<path d="M382.4 212.9 L382.9 212.93 L383.4 212.96 L383.9 212.99 L384.4 213.01 L384.9 213.04 L385.4 213.07 L385.9 213.1 L386.4 213.13 L386.91 213.16 L387.41 213.19 L387.91 213.21 L388.41 213.24 L388.91 213.27 L389.41 213.3 L389.91 213.33 L390.41 213.36 L390.91 213.38 L391.41 213.41 L391.91 213.44 L392.41 213.47 L392.91 213.5 L393.41 213.52 L393.91 213.55 L394.41 213.58 L394.91 213.61 L395.42 213.63 L395.92 213.66 L396.42 213.69 L396.92 213.72 L397.42 213.75 L397.92 213.77 L398.42 213.8 L398.92 213.83 L399.42 213.86 L399.92 213.89 L400.42 213.91 L400.92 213.94 L401.42 213.97 L401.92 214 L402.42 214.03 L402.92 214.06 L403.42 214.08 L403.92 214.11 L404.43 214.14 L404.93 214.17 L405.43 214.19 L405.93 214.22 L406.43 214.25 L406.93 214.28 L407.43 214.3 L407.93 214.33 L408.43 214.36 L408.93 214.38 L409.43 214.41 L409.93 214.44 L410.43 214.46 L410.93 214.49 L411.43 214.51 L411.93 214.54 L412.43 214.56 L412.94 214.58 L413.44 214.61 L413.94 214.63 L414.44 214.65 L414.94 214.67 L415.44 214.7 L415.94 214.72 L416.44 214.74 L416.94 214.76 L417.44 214.79 L417.94 214.81 L418.44 214.83 L418.94 214.85 L419.44 214.87 L419.94 214.89 L420.44 214.91 L420.94 214.93 L421.45 214.95 L421.95 214.97 L422.45 214.99 L422.95 215.01 L423.45 215.03 L423.95 215.05 L424.45 215.07 L424.95 215.08 L425.45 215.1 L425.95 215.12 L426.45 215.11 L426.95 214.8 L427.45 214.16 L427.95 213.26 L428.45 212.17 L428.95 210.96 L429.45 209.67 L429.95 208.34 L430.46 207 L430.96 205.67 L431.46 204.37 L431.96 203.12 L432.46 201.92 L432.96 200.78 L433.46 199.72 L433.96 198.74 L434.46 197.85 L434.96 197.05 L435.46 196.35 L435.96 195.75 L436.46 195.25 L436.96 194.87 L437.46 194.59 L437.96 194.43 L438.46 194.38 L438.97 194.44 L439.47 194.62 L439.97 194.9 L440.47 195.31 L440.97 195.82 L441.47 196.43 L441.97 197.16 L442.47 197.98 L442.97 198.9 L443.47 199.92 L443.97 201.02 L444.47 202.2 L444.97 203.46 L445.47 204.78 L445.97 206.16 L446.47 207.59 L446.97 209.05 L447.48 210.53 L447.98 212.01 L448.48 213.45 L448.98 214.82 L449.48 216.04 L449.98 217.02 L450.48 217.63 L450.98 217.76 L451.48 217.37 L451.98 216.56 L452.48 215.44 L452.98 214.14 L453.48 212.74 L453.98 211.29 L454.48 209.82 L454.98 208.36 L455.48 206.93 L455.98 205.54 L456.49 204.21 L456.99 202.94 L457.49 201.75 L457.99 200.63 L458.49 199.6 L458.99 198.67 L459.49 197.83 L459.99 197.09 L460.49 196.45 L460.99 195.93 L461.49 195.51 L461.99 195.21 L462.49 195.02 L462.99 194.95 L463.49 194.99 L463.99 195.15 L464.49 195.42 L465 195.81 L465.5 196.31 L466 196.92 L466.5 197.64 L467 198.46 L467.5 199.38 L468 200.4 L468.5 201.52 L469 202.72 L469.5 204 L470 205.36 L470.5 206.78 L471 208.27 L471.5 209.81 L472 211.39 L472.5 213 L473 214.61 L473.51 216.21 L474.01 217.73 L474.51 219.08 L475.01 220.06 L475.51 220.35 L476.01 219.81 L476.51 218.69 L477.01 217.27 L477.51 215.72 L478.01 214.12 L478.51 212.52 L479.01 210.92 L479.51 209.36 L480.01 207.85 L480.51 206.39 L481.01 205 L481.51 203.68 L482.02 202.43 L482.52 201.28 L483.02 200.21 L483.52 199.23 L484.02 198.36 L484.52 197.59 L485.02 196.92 L485.52 196.37 L486.02 195.93 L486.52 195.6 L487.02 195.39 L487.52 195.29 L488.02 195.31 L488.52 195.45 L489.02 195.71 L489.52 196.08 L490.02 196.56 L490.52 197.16 L491.03 197.87 L491.53 198.68 L492.03 199.6 L492.53 200.61 L493.03 201.72 L493.53 202.93 L494.03 204.22 L494.53 205.59 L495.03 207.03 L495.53 208.54 L496.03 210.12 L496.53 211.75 L497.03 213.43 L497.53 215.15 L498.03 216.89 L498.53 218.65 L499.03 220.4 L499.54 222.04 L500.04 222.92 L500.54 221.88 L501.04 220.22 L501.54 218.47 L502.04 216.71 L502.54 214.97 L503.04 213.26 L503.54 211.59 L504.04 209.96 L504.54 208.4 L505.04 206.9 L505.54 205.46 L506.04 204.11 L506.54 202.83 L507.04 201.64 L507.54 200.54 L508.05 199.54 L508.55 198.64 L509.05 197.85 L509.55 197.16 L510.05 196.58 L510.55 196.12 L511.05 195.77 L511.55 195.53 L512.05 195.41 L512.55 195.41 L513.05 195.53 L513.55 195.77 L514.05 196.12 L514.55 196.58 L515.05 197.16 L515.55 197.85 L516.05 198.64 L516.55 199.54 L517.06 200.54 L517.56 201.64 L518.06 202.83 L518.56 204.11 L519.06 205.46 L519.56 206.9 L520.06 208.4 L520.56 209.96 L521.06 211.59 L521.56 213.26 L522.06 214.97 L522.56 216.71 L523.06 218.47 L523.56 220.22 L524.06 221.88 L524.56 222.92 L525.06 222.04 L525.57 220.4 L526.07 218.65 L526.57 216.89 L527.07 215.15 L527.57 213.43 L528.07 211.75 L528.57 210.12 L529.07 208.54 L529.57 207.03 L530.07 205.59 L530.57 204.22 L531.07 202.93 L531.57 201.72 L532.07 200.61 L532.57 199.6 L533.07 198.68 L533.57 197.87 L534.08 197.16 L534.58 196.56 L535.08 196.08 L535.58 195.71 L536.08 195.45 L536.58 195.31 L537.08 195.29 L537.58 195.39 L538.08 195.6 L538.58 195.93 L539.08 196.37 L539.58 196.92 L540.08 197.59 L540.58 198.36 L541.08 199.23 L541.58 200.21 L542.08 201.28 L542.58 202.43 L543.09 203.68 L543.59 205 L544.09 206.39 L544.59 207.85 L545.09 209.36 L545.59 210.92 L546.09 212.52 L546.59 214.12 L547.09 215.72 L547.59 217.27 L548.09 218.69 L548.59 219.81 L549.09 220.35 L549.59 220.06 L550.09 219.08 L550.59 217.73 L551.09 216.21 L551.6 214.61 L552.1 213 L552.6 211.39 L553.1 209.81 L553.6 208.27 L554.1 206.78 L554.6 205.36 L555.1 204 L555.6 202.72 L556.1 201.52 L556.6 200.4 L557.1 199.38 L557.6 198.46 L558.1 197.64 L558.6 196.92 L559.1 196.31 L559.6 195.81 L560.11 195.42 L560.61 195.15 L561.11 194.99 L561.61 194.95 L562.11 195.02 L562.61 195.21 L563.11 195.51 L563.61 195.93 L564.11 196.45 L564.61 197.09 L565.11 197.83 L565.61 198.67 L566.11 199.6 L566.61 200.63 L567.11 201.75 L567.61 202.94 L568.11 204.21 L568.62 205.54 L569.12 206.93 L569.62 208.36 L570.12 209.82 L570.62 211.29 L571.12 212.74 L571.62 214.14 L572.12 215.44 L572.62 216.56 L573.12 217.37 L573.62 217.76 L574.12 217.63 L574.62 217.02 L575.12 216.04 L575.62 214.82 L576.12 213.45 L576.62 212.01 L577.12 210.53 L577.63 209.05 L578.13 207.59 L578.63 206.16 L579.13 204.78 L579.63 203.46 L580.13 202.2 L580.63 201.02 L581.13 199.92 L581.63 198.9 L582.13 197.98 L582.63 197.16 L583.13 196.43 L583.63 195.82 L584.13 195.31 L584.63 194.9 L585.13 194.62 L585.63 194.44 L586.14 194.38 L586.64 194.43 L587.14 194.59 L587.64 194.87 L588.14 195.25 L588.64 195.75 L589.14 196.35 L589.64 197.05 L590.14 197.85 L590.64 198.74 L591.14 199.72 L591.64 200.78 L592.14 201.92 L592.64 203.12 L593.14 204.37 L593.64 205.67 L594.14 207 L594.65 208.34 L595.15 209.67 L595.65 210.96 L596.15 212.17 L596.65 213.26 L597.15 214.16 L597.65 214.8 L598.15 215.11 L598.65 215.12 L599.15 215.1 L599.65 215.08 L600.15 215.07 L600.65 215.05 L601.15 215.03 L601.65 215.01 L602.15 214.99 L602.65 214.97 L603.15 214.95 L603.66 214.93 L604.16 214.91 L604.66 214.89 L605.16 214.87 L605.66 214.85 L606.16 214.83 L606.66 214.81 L607.16 214.79 L607.66 214.76 L608.16 214.74 L608.66 214.72 L609.16 214.7 L609.66 214.67 L610.16 214.65 L610.66 214.63 L611.16 214.61 L611.66 214.58 L612.17 214.56 L612.67 214.54 L613.17 214.51 L613.67 214.49 L614.17 214.46 L614.67 214.44 L615.17 214.41 L615.67 214.38 L616.17 214.36 L616.67 214.33 L617.17 214.3 L617.67 214.28 L618.17 214.25 L618.67 214.22 L619.17 214.19 L619.67 214.17 L620.17 214.14 L620.68 214.11 L621.18 214.08 L621.68 214.06 L622.18 214.03 L622.68 214 L623.18 213.97 L623.68 213.94 L624.18 213.91 L624.68 213.89 L625.18 213.86 L625.68 213.83 L626.18 213.8 L626.68 213.77 L627.18 213.75 L627.68 213.72 L628.18 213.69 L628.68 213.66 L629.18 213.63 L629.69 213.61 L630.19 213.58 L630.69 213.55 L631.19 213.52 L631.69 213.5 L632.19 213.47 L632.69 213.44 L633.19 213.41 L633.69 213.38 L634.19 213.36 L634.69 213.33 L635.19 213.3 L635.69 213.27 L636.19 213.24 L636.69 213.21 L637.19 213.19 L637.69 213.16 L638.2 213.13 L638.7 213.1 L639.2 213.07 L639.7 213.04 L640.2 213.01 L640.7 212.99 L641.2 212.96 L641.7 212.93 L642.2 212.9" fill="none" stroke="#ff0000" stroke-width="1.45" stroke-dasharray="2.2 0.95" />
<path d="M382.4 243 L382.9 243.2 L383.4 243.41 L383.9 243.61 L384.4 243.81 L384.9 244.01 L385.4 244.2 L385.9 244.4 L386.4 244.6 L386.91 244.79 L387.41 244.99 L387.91 245.18 L388.41 245.37 L388.91 245.56 L389.41 245.75 L389.91 245.93 L390.41 246.12 L390.91 246.3 L391.41 246.49 L391.91 246.67 L392.41 246.85 L392.91 247.03 L393.41 247.21 L393.91 247.38 L394.41 247.56 L394.91 247.73 L395.42 247.9 L395.92 248.07 L396.42 248.24 L396.92 248.41 L397.42 248.57 L397.92 248.74 L398.42 248.9 L398.92 249.06 L399.42 249.22 L399.92 249.38 L400.42 249.54 L400.92 249.7 L401.42 249.86 L401.92 250.02 L402.42 250.17 L402.92 250.32 L403.42 250.48 L403.92 250.63 L404.43 250.78 L404.93 250.93 L405.43 251.08 L405.93 251.23 L406.43 251.38 L406.93 251.52 L407.43 251.67 L407.93 251.81 L408.43 251.96 L408.93 252.1 L409.43 252.24 L409.93 252.38 L410.43 252.52 L410.93 252.66 L411.43 252.8 L411.93 252.93 L412.43 253.07 L412.94 253.2 L413.44 253.34 L413.94 253.47 L414.44 253.6 L414.94 253.73 L415.44 253.86 L415.94 253.99 L416.44 254.12 L416.94 254.25 L417.44 254.37 L417.94 254.5 L418.44 254.62 L418.94 254.74 L419.44 254.87 L419.94 254.99 L420.44 255.11 L420.94 255.23 L421.45 255.35 L421.95 255.46 L422.45 255.58 L422.95 255.7 L423.45 255.81 L423.95 255.92 L424.45 256.04 L424.95 256.15 L425.45 256.26 L425.95 256.37 L426.45 256.49 L426.95 256.62 L427.45 256.73 L427.95 256.84 L428.45 256.94 L428.95 257.02 L429.45 257.09 L429.95 257.15 L430.46 257.2 L430.96 257.23 L431.46 257.26 L431.96 257.27 L432.46 257.28 L432.96 257.29 L433.46 257.29 L433.96 257.29 L434.46 257.29 L434.96 257.3 L435.46 257.31 L435.96 257.33 L436.46 257.36 L436.96 257.39 L437.46 257.44 L437.96 257.5 L438.46 257.58 L438.97 257.66 L439.47 257.76 L439.97 257.87 L440.47 257.99 L440.97 258.12 L441.47 258.26 L441.97 258.4 L442.47 258.55 L442.97 258.7 L443.47 258.86 L443.97 259 L444.47 259.15 L444.97 259.29 L445.47 259.41 L445.97 259.52 L446.47 259.62 L446.97 259.7 L447.48 259.77 L447.98 259.81 L448.48 259.84 L448.98 259.85 L449.48 259.84 L449.98 259.82 L450.48 259.78 L450.98 259.74 L451.48 259.69 L451.98 259.64 L452.48 259.59 L452.98 259.54 L453.48 259.5 L453.98 259.47 L454.48 259.44 L454.98 259.43 L455.48 259.43 L455.98 259.45 L456.49 259.49 L456.99 259.54 L457.49 259.61 L457.99 259.69 L458.49 259.79 L458.99 259.91 L459.49 260.04 L459.99 260.18 L460.49 260.34 L460.99 260.5 L461.49 260.67 L461.99 260.84 L462.49 261.01 L462.99 261.17 L463.49 261.33 L463.99 261.47 L464.49 261.59 L465 261.7 L465.5 261.78 L466 261.83 L466.5 261.85 L467 261.85 L467.5 261.82 L468 261.76 L468.5 261.69 L469 261.6 L469.5 261.49 L470 261.39 L470.5 261.28 L471 261.17 L471.5 261.07 L472 260.98 L472.5 260.9 L473 260.83 L473.51 260.79 L474.01 260.76 L474.51 260.75 L475.01 260.76 L475.51 260.79 L476.01 260.85 L476.51 260.92 L477.01 261.02 L477.51 261.14 L478.01 261.27 L478.51 261.43 L479.01 261.6 L479.51 261.79 L480.01 261.98 L480.51 262.19 L481.01 262.4 L481.51 262.61 L482.02 262.81 L482.52 263 L483.02 263.17 L483.52 263.31 L484.02 263.41 L484.52 263.46 L485.02 263.46 L485.52 263.41 L486.02 263.32 L486.52 263.19 L487.02 263.04 L487.52 262.87 L488.02 262.69 L488.52 262.51 L489.02 262.34 L489.52 262.17 L490.02 262.01 L490.52 261.87 L491.03 261.75 L491.53 261.65 L492.03 261.57 L492.53 261.51 L493.03 261.48 L493.53 261.47 L494.03 261.49 L494.53 261.53 L495.03 261.6 L495.53 261.69 L496.03 261.8 L496.53 261.94 L497.03 262.11 L497.53 262.29 L498.03 262.5 L498.53 262.72 L499.03 262.96 L499.54 263.21 L500.04 263.48 L500.54 263.75 L501.04 264.03 L501.54 264.3 L502.04 264.55 L502.54 264.75 L503.04 264.85 L503.54 264.79 L504.04 264.62 L504.54 264.38 L505.04 264.12 L505.54 263.85 L506.04 263.58 L506.54 263.32 L507.04 263.07 L507.54 262.84 L508.05 262.62 L508.55 262.43 L509.05 262.25 L509.55 262.1 L510.05 261.97 L510.55 261.86 L511.05 261.78 L511.55 261.73 L512.05 261.7 L512.55 261.7 L513.05 261.73 L513.55 261.78 L514.05 261.86 L514.55 261.97 L515.05 262.1 L515.55 262.25 L516.05 262.43 L516.55 262.62 L517.06 262.84 L517.56 263.07 L518.06 263.32 L518.56 263.58 L519.06 263.85 L519.56 264.12 L520.06 264.38 L520.56 264.62 L521.06 264.79 L521.56 264.85 L522.06 264.75 L522.56 264.55 L523.06 264.3 L523.56 264.03 L524.06 263.75 L524.56 263.48 L525.06 263.21 L525.57 262.96 L526.07 262.72 L526.57 262.5 L527.07 262.29 L527.57 262.11 L528.07 261.94 L528.57 261.8 L529.07 261.69 L529.57 261.6 L530.07 261.53 L530.57 261.49 L531.07 261.47 L531.57 261.48 L532.07 261.51 L532.57 261.57 L533.07 261.65 L533.57 261.75 L534.08 261.87 L534.58 262.01 L535.08 262.17 L535.58 262.34 L536.08 262.51 L536.58 262.69 L537.08 262.87 L537.58 263.04 L538.08 263.19 L538.58 263.32 L539.08 263.41 L539.58 263.46 L540.08 263.46 L540.58 263.41 L541.08 263.31 L541.58 263.17 L542.08 263 L542.58 262.81 L543.09 262.61 L543.59 262.4 L544.09 262.19 L544.59 261.98 L545.09 261.79 L545.59 261.6 L546.09 261.43 L546.59 261.27 L547.09 261.14 L547.59 261.02 L548.09 260.92 L548.59 260.85 L549.09 260.79 L549.59 260.76 L550.09 260.75 L550.59 260.76 L551.09 260.79 L551.6 260.83 L552.1 260.9 L552.6 260.98 L553.1 261.07 L553.6 261.17 L554.1 261.28 L554.6 261.39 L555.1 261.49 L555.6 261.6 L556.1 261.69 L556.6 261.76 L557.1 261.82 L557.6 261.85 L558.1 261.85 L558.6 261.83 L559.1 261.78 L559.6 261.7 L560.11 261.59 L560.61 261.47 L561.11 261.33 L561.61 261.17 L562.11 261.01 L562.61 260.84 L563.11 260.67 L563.61 260.5 L564.11 260.34 L564.61 260.18 L565.11 260.04 L565.61 259.91 L566.11 259.79 L566.61 259.69 L567.11 259.61 L567.61 259.54 L568.11 259.49 L568.62 259.45 L569.12 259.43 L569.62 259.43 L570.12 259.44 L570.62 259.47 L571.12 259.5 L571.62 259.54 L572.12 259.59 L572.62 259.64 L573.12 259.69 L573.62 259.74 L574.12 259.78 L574.62 259.82 L575.12 259.84 L575.62 259.85 L576.12 259.84 L576.62 259.81 L577.12 259.77 L577.63 259.7 L578.13 259.62 L578.63 259.52 L579.13 259.41 L579.63 259.29 L580.13 259.15 L580.63 259 L581.13 258.86 L581.63 258.7 L582.13 258.55 L582.63 258.4 L583.13 258.26 L583.63 258.12 L584.13 257.99 L584.63 257.87 L585.13 257.76 L585.63 257.66 L586.14 257.58 L586.64 257.5 L587.14 257.44 L587.64 257.39 L588.14 257.36 L588.64 257.33 L589.14 257.31 L589.64 257.3 L590.14 257.29 L590.64 257.29 L591.14 257.29 L591.64 257.29 L592.14 257.28 L592.64 257.27 L593.14 257.26 L593.64 257.23 L594.14 257.2 L594.65 257.15 L595.15 257.09 L595.65 257.02 L596.15 256.94 L596.65 256.84 L597.15 256.73 L597.65 256.62 L598.15 256.49 L598.65 256.37 L599.15 256.26 L599.65 256.15 L600.15 256.04 L600.65 255.92 L601.15 255.81 L601.65 255.7 L602.15 255.58 L602.65 255.46 L603.15 255.35 L603.66 255.23 L604.16 255.11 L604.66 254.99 L605.16 254.87 L605.66 254.74 L606.16 254.62 L606.66 254.5 L607.16 254.37 L607.66 254.25 L608.16 254.12 L608.66 253.99 L609.16 253.86 L609.66 253.73 L610.16 253.6 L610.66 253.47 L611.16 253.34 L611.66 253.2 L612.17 253.07 L612.67 252.93 L613.17 252.8 L613.67 252.66 L614.17 252.52 L614.67 252.38 L615.17 252.24 L615.67 252.1 L616.17 251.96 L616.67 251.81 L617.17 251.67 L617.67 251.52 L618.17 251.38 L618.67 251.23 L619.17 251.08 L619.67 250.93 L620.17 250.78 L620.68 250.63 L621.18 250.48 L621.68 250.32 L622.18 250.17 L622.68 250.02 L623.18 249.86 L623.68 249.7 L624.18 249.54 L624.68 249.38 L625.18 249.22 L625.68 249.06 L626.18 248.9 L626.68 248.74 L627.18 248.57 L627.68 248.41 L628.18 248.24 L628.68 248.07 L629.18 247.9 L629.69 247.73 L630.19 247.56 L630.69 247.38 L631.19 247.21 L631.69 247.03 L632.19 246.85 L632.69 246.67 L633.19 246.49 L633.69 246.3 L634.19 246.12 L634.69 245.93 L635.19 245.75 L635.69 245.56 L636.19 245.37 L636.69 245.18 L637.19 244.99 L637.69 244.79 L638.2 244.6 L638.7 244.4 L639.2 244.2 L639.7 244.01 L640.2 243.81 L640.7 243.61 L641.2 243.41 L641.7 243.2 L642.2 243" fill="none" stroke="#0000ff" stroke-width="1.4" />
<path d="M382.4 255.3 L382.9 255.31 L383.4 255.32 L383.9 255.34 L384.4 255.35 L384.9 255.36 L385.4 255.37 L385.9 255.38 L386.4 255.39 L386.91 255.4 L387.41 255.42 L387.91 255.43 L388.41 255.44 L388.91 255.45 L389.41 255.46 L389.91 255.47 L390.41 255.48 L390.91 255.49 L391.41 255.5 L391.91 255.51 L392.41 255.52 L392.91 255.54 L393.41 255.55 L393.91 255.56 L394.41 255.57 L394.91 255.58 L395.42 255.59 L395.92 255.6 L396.42 255.61 L396.92 255.62 L397.42 255.63 L397.92 255.64 L398.42 255.65 L398.92 255.65 L399.42 255.66 L399.92 255.67 L400.42 255.68 L400.92 255.69 L401.42 255.7 L401.92 255.71 L402.42 255.72 L402.92 255.73 L403.42 255.74 L403.92 255.75 L404.43 255.76 L404.93 255.76 L405.43 255.77 L405.93 255.78 L406.43 255.79 L406.93 255.8 L407.43 255.81 L407.93 255.81 L408.43 255.82 L408.93 255.83 L409.43 255.84 L409.93 255.85 L410.43 255.86 L410.93 255.86 L411.43 255.87 L411.93 255.88 L412.43 255.89 L412.94 255.89 L413.44 255.9 L413.94 255.91 L414.44 255.92 L414.94 255.92 L415.44 255.93 L415.94 255.94 L416.44 255.95 L416.94 255.95 L417.44 255.96 L417.94 255.97 L418.44 255.97 L418.94 255.98 L419.44 255.99 L419.94 255.99 L420.44 256 L420.94 256.01 L421.45 256.01 L421.95 256.02 L422.45 256.02 L422.95 256.03 L423.45 256.04 L423.95 256.04 L424.45 256.05 L424.95 256.05 L425.45 255.9 L425.95 254.97 L426.45 253.53 L426.95 251.77 L427.45 249.84 L427.95 247.84 L428.45 245.83 L428.95 243.87 L429.45 241.98 L429.95 240.19 L430.46 238.54 L430.96 237.02 L431.46 235.67 L431.96 234.49 L432.46 233.5 L432.96 232.69 L433.46 232.09 L433.96 231.69 L434.46 231.5 L434.96 231.51 L435.46 231.74 L435.96 232.18 L436.46 232.82 L436.96 233.66 L437.46 234.7 L437.96 235.92 L438.46 237.32 L438.97 238.89 L439.47 240.61 L439.97 242.46 L440.47 244.44 L440.97 246.5 L441.47 248.63 L441.97 250.79 L442.47 252.92 L442.97 254.92 L443.47 256.66 L443.97 257.87 L444.47 258.27 L444.97 257.71 L445.47 256.38 L445.97 254.59 L446.47 252.56 L446.97 250.44 L447.48 248.3 L447.98 246.19 L448.48 244.16 L448.98 242.22 L449.48 240.42 L449.98 238.75 L450.48 237.24 L450.98 235.9 L451.48 234.74 L451.98 233.77 L452.48 233 L452.98 232.43 L453.48 232.08 L453.98 231.93 L454.48 232 L454.98 232.28 L455.48 232.77 L455.98 233.46 L456.49 234.36 L456.99 235.46 L457.49 236.75 L457.99 238.21 L458.49 239.84 L458.99 241.63 L459.49 243.56 L459.99 245.62 L460.49 247.77 L460.99 250.01 L461.49 252.3 L461.99 254.58 L462.49 256.78 L462.99 258.73 L463.49 260.07 L463.99 260.27 L464.49 259.22 L465 257.41 L465.5 255.27 L466 253 L466.5 250.72 L467 248.47 L467.5 246.3 L468 244.23 L468.5 242.27 L469 240.46 L469.5 238.79 L470 237.3 L470.5 235.98 L471 234.85 L471.5 233.91 L472 233.18 L472.5 232.66 L473 232.34 L473.51 232.25 L474.01 232.36 L474.51 232.69 L475.01 233.24 L475.51 233.99 L476.01 234.94 L476.51 236.09 L477.01 237.44 L477.51 238.96 L478.01 240.65 L478.51 242.5 L479.01 244.5 L479.51 246.62 L480.01 248.86 L480.51 251.19 L481.01 253.59 L481.51 256.03 L482.02 258.44 L482.52 260.68 L483.02 262.25 L483.52 262.02 L484.02 260.22 L484.52 257.92 L485.02 255.5 L485.52 253.07 L486.02 250.69 L486.52 248.38 L487.02 246.17 L487.52 244.09 L488.02 242.13 L488.52 240.32 L489.02 238.68 L489.52 237.21 L490.02 235.92 L490.52 234.82 L491.03 233.93 L491.53 233.24 L492.03 232.76 L492.53 232.49 L493.03 232.44 L493.53 232.61 L494.03 232.99 L494.53 233.59 L495.03 234.39 L495.53 235.4 L496.03 236.6 L496.53 237.99 L497.03 239.57 L497.53 241.31 L498.03 243.21 L498.53 245.26 L499.03 247.43 L499.54 249.73 L500.04 252.12 L500.54 254.61 L501.04 257.15 L501.54 259.74 L502.04 262.31 L502.54 264.42 L503.04 262.96 L503.54 260.41 L504.04 257.82 L504.54 255.26 L505.04 252.77 L505.54 250.35 L506.04 248.03 L506.54 245.82 L507.04 243.74 L507.54 241.81 L508.05 240.02 L508.55 238.41 L509.05 236.97 L509.55 235.72 L510.05 234.67 L510.55 233.82 L511.05 233.18 L511.55 232.74 L512.05 232.53 L512.55 232.53 L513.05 232.74 L513.55 233.18 L514.05 233.82 L514.55 234.67 L515.05 235.72 L515.55 236.97 L516.05 238.41 L516.55 240.02 L517.06 241.81 L517.56 243.74 L518.06 245.82 L518.56 248.03 L519.06 250.35 L519.56 252.77 L520.06 255.26 L520.56 257.82 L521.06 260.41 L521.56 262.96 L522.06 264.42 L522.56 262.31 L523.06 259.74 L523.56 257.15 L524.06 254.61 L524.56 252.12 L525.06 249.73 L525.57 247.43 L526.07 245.26 L526.57 243.21 L527.07 241.31 L527.57 239.57 L528.07 237.99 L528.57 236.6 L529.07 235.4 L529.57 234.39 L530.07 233.59 L530.57 232.99 L531.07 232.61 L531.57 232.44 L532.07 232.49 L532.57 232.76 L533.07 233.24 L533.57 233.93 L534.08 234.82 L534.58 235.92 L535.08 237.21 L535.58 238.68 L536.08 240.32 L536.58 242.13 L537.08 244.09 L537.58 246.17 L538.08 248.38 L538.58 250.69 L539.08 253.07 L539.58 255.5 L540.08 257.92 L540.58 260.22 L541.08 262.02 L541.58 262.25 L542.08 260.68 L542.58 258.44 L543.09 256.03 L543.59 253.59 L544.09 251.19 L544.59 248.86 L545.09 246.62 L545.59 244.5 L546.09 242.5 L546.59 240.65 L547.09 238.96 L547.59 237.44 L548.09 236.09 L548.59 234.94 L549.09 233.99 L549.59 233.24 L550.09 232.69 L550.59 232.36 L551.09 232.25 L551.6 232.34 L552.1 232.66 L552.6 233.18 L553.1 233.91 L553.6 234.85 L554.1 235.98 L554.6 237.3 L555.1 238.79 L555.6 240.46 L556.1 242.27 L556.6 244.23 L557.1 246.3 L557.6 248.47 L558.1 250.72 L558.6 253 L559.1 255.27 L559.6 257.41 L560.11 259.22 L560.61 260.27 L561.11 260.07 L561.61 258.73 L562.11 256.78 L562.61 254.58 L563.11 252.3 L563.61 250.01 L564.11 247.77 L564.61 245.62 L565.11 243.56 L565.61 241.63 L566.11 239.84 L566.61 238.21 L567.11 236.75 L567.61 235.46 L568.11 234.36 L568.62 233.46 L569.12 232.77 L569.62 232.28 L570.12 232 L570.62 231.93 L571.12 232.08 L571.62 232.43 L572.12 233 L572.62 233.77 L573.12 234.74 L573.62 235.9 L574.12 237.24 L574.62 238.75 L575.12 240.42 L575.62 242.22 L576.12 244.16 L576.62 246.19 L577.12 248.3 L577.63 250.44 L578.13 252.56 L578.63 254.59 L579.13 256.38 L579.63 257.71 L580.13 258.27 L580.63 257.87 L581.13 256.66 L581.63 254.92 L582.13 252.92 L582.63 250.79 L583.13 248.63 L583.63 246.5 L584.13 244.44 L584.63 242.46 L585.13 240.61 L585.63 238.89 L586.14 237.32 L586.64 235.92 L587.14 234.7 L587.64 233.66 L588.14 232.82 L588.64 232.18 L589.14 231.74 L589.64 231.51 L590.14 231.5 L590.64 231.69 L591.14 232.09 L591.64 232.69 L592.14 233.5 L592.64 234.49 L593.14 235.67 L593.64 237.02 L594.14 238.54 L594.65 240.19 L595.15 241.98 L595.65 243.87 L596.15 245.83 L596.65 247.84 L597.15 249.84 L597.65 251.77 L598.15 253.53 L598.65 254.97 L599.15 255.9 L599.65 256.05 L600.15 256.05 L600.65 256.04 L601.15 256.04 L601.65 256.03 L602.15 256.02 L602.65 256.02 L603.15 256.01 L603.66 256.01 L604.16 256 L604.66 255.99 L605.16 255.99 L605.66 255.98 L606.16 255.97 L606.66 255.97 L607.16 255.96 L607.66 255.95 L608.16 255.95 L608.66 255.94 L609.16 255.93 L609.66 255.92 L610.16 255.92 L610.66 255.91 L611.16 255.9 L611.66 255.89 L612.17 255.89 L612.67 255.88 L613.17 255.87 L613.67 255.86 L614.17 255.86 L614.67 255.85 L615.17 255.84 L615.67 255.83 L616.17 255.82 L616.67 255.81 L617.17 255.81 L617.67 255.8 L618.17 255.79 L618.67 255.78 L619.17 255.77 L619.67 255.76 L620.17 255.76 L620.68 255.75 L621.18 255.74 L621.68 255.73 L622.18 255.72 L622.68 255.71 L623.18 255.7 L623.68 255.69 L624.18 255.68 L624.68 255.67 L625.18 255.66 L625.68 255.65 L626.18 255.65 L626.68 255.64 L627.18 255.63 L627.68 255.62 L628.18 255.61 L628.68 255.6 L629.18 255.59 L629.69 255.58 L630.19 255.57 L630.69 255.56 L631.19 255.55 L631.69 255.54 L632.19 255.52 L632.69 255.51 L633.19 255.5 L633.69 255.49 L634.19 255.48 L634.69 255.47 L635.19 255.46 L635.69 255.45 L636.19 255.44 L636.69 255.43 L637.19 255.42 L637.69 255.4 L638.2 255.39 L638.7 255.38 L639.2 255.37 L639.7 255.36 L640.2 255.35 L640.7 255.34 L641.2 255.32 L641.7 255.31 L642.2 255.3" fill="none" stroke="#ff0000" stroke-width="1.45" stroke-dasharray="2.2 0.95" />
</g>
<rect x="382.4" y="17.8" width="259.8" height="247.5" fill="none" stroke="#333" stroke-width="0.9"/>
<line x1="382.4" y1="17.8" x2="642.2" y2="17.8" stroke="#8a8a8a" stroke-width="1.0" />
<line x1="382.4" y1="58.4" x2="642.2" y2="58.4" stroke="#333" stroke-width="0.9" />
<line x1="382.4" y1="100.4" x2="642.2" y2="100.4" stroke="#333" stroke-width="0.9" />
<line x1="382.4" y1="142.4" x2="642.2" y2="142.4" stroke="#333" stroke-width="0.9" />
<line x1="382.4" y1="182.4" x2="642.2" y2="182.4" stroke="#333" stroke-width="0.9" />
<line x1="382.4" y1="223.9" x2="642.2" y2="223.9" stroke="#333" stroke-width="0.9" />
<line x1="420.4" y1="58.4" x2="420.4" y2="56.4" stroke="#333" stroke-width="0.8" />
<line x1="420.4" y1="58.4" x2="420.4" y2="60.4" stroke="#333" stroke-width="0.8" />
<line x1="469" y1="58.4" x2="469" y2="56.4" stroke="#333" stroke-width="0.8" />
<line x1="469" y1="58.4" x2="469" y2="60.4" stroke="#333" stroke-width="0.8" />
<line x1="512.3" y1="58.4" x2="512.3" y2="56.4" stroke="#333" stroke-width="0.8" />
<line x1="512.3" y1="58.4" x2="512.3" y2="60.4" stroke="#333" stroke-width="0.8" />
<line x1="555.6" y1="58.4" x2="555.6" y2="56.4" stroke="#333" stroke-width="0.8" />
<line x1="555.6" y1="58.4" x2="555.6" y2="60.4" stroke="#333" stroke-width="0.8" />
<line x1="598.9" y1="58.4" x2="598.9" y2="56.4" stroke="#333" stroke-width="0.8" />
<line x1="598.9" y1="58.4" x2="598.9" y2="60.4" stroke="#333" stroke-width="0.8" />
<line x1="425.7" y1="100.4" x2="425.7" y2="98.4" stroke="#333" stroke-width="0.8" />
<line x1="425.7" y1="100.4" x2="425.7" y2="102.4" stroke="#333" stroke-width="0.8" />
<line x1="469" y1="100.4" x2="469" y2="98.4" stroke="#333" stroke-width="0.8" />
<line x1="469" y1="100.4" x2="469" y2="102.4" stroke="#333" stroke-width="0.8" />
<line x1="512.3" y1="100.4" x2="512.3" y2="98.4" stroke="#333" stroke-width="0.8" />
<line x1="512.3" y1="100.4" x2="512.3" y2="102.4" stroke="#333" stroke-width="0.8" />
<line x1="555.6" y1="100.4" x2="555.6" y2="98.4" stroke="#333" stroke-width="0.8" />
<line x1="555.6" y1="100.4" x2="555.6" y2="102.4" stroke="#333" stroke-width="0.8" />
<line x1="598.9" y1="100.4" x2="598.9" y2="98.4" stroke="#333" stroke-width="0.8" />
<line x1="598.9" y1="100.4" x2="598.9" y2="102.4" stroke="#333" stroke-width="0.8" />
<line x1="425.7" y1="142.4" x2="425.7" y2="140.4" stroke="#333" stroke-width="0.8" />
<line x1="425.7" y1="142.4" x2="425.7" y2="144.4" stroke="#333" stroke-width="0.8" />
<line x1="469" y1="142.4" x2="469" y2="140.4" stroke="#333" stroke-width="0.8" />
<line x1="469" y1="142.4" x2="469" y2="144.4" stroke="#333" stroke-width="0.8" />
<line x1="512.3" y1="142.4" x2="512.3" y2="140.4" stroke="#333" stroke-width="0.8" />
<line x1="512.3" y1="142.4" x2="512.3" y2="144.4" stroke="#333" stroke-width="0.8" />
<line x1="555.6" y1="142.4" x2="555.6" y2="140.4" stroke="#333" stroke-width="0.8" />
<line x1="555.6" y1="142.4" x2="555.6" y2="144.4" stroke="#333" stroke-width="0.8" />
<line x1="598.9" y1="142.4" x2="598.9" y2="140.4" stroke="#333" stroke-width="0.8" />
<line x1="598.9" y1="142.4" x2="598.9" y2="144.4" stroke="#333" stroke-width="0.8" />
<line x1="425.7" y1="182.4" x2="425.7" y2="180.4" stroke="#333" stroke-width="0.8" />
<line x1="425.7" y1="182.4" x2="425.7" y2="184.4" stroke="#333" stroke-width="0.8" />
<line x1="469" y1="182.4" x2="469" y2="180.4" stroke="#333" stroke-width="0.8" />
<line x1="469" y1="182.4" x2="469" y2="184.4" stroke="#333" stroke-width="0.8" />
<line x1="512.3" y1="182.4" x2="512.3" y2="180.4" stroke="#333" stroke-width="0.8" />
<line x1="512.3" y1="182.4" x2="512.3" y2="184.4" stroke="#333" stroke-width="0.8" />
<line x1="555.6" y1="182.4" x2="555.6" y2="180.4" stroke="#333" stroke-width="0.8" />
<line x1="555.6" y1="182.4" x2="555.6" y2="184.4" stroke="#333" stroke-width="0.8" />
<line x1="598.9" y1="182.4" x2="598.9" y2="180.4" stroke="#333" stroke-width="0.8" />
<line x1="598.9" y1="182.4" x2="598.9" y2="184.4" stroke="#333" stroke-width="0.8" />
<line x1="425.7" y1="223.9" x2="425.7" y2="221.9" stroke="#333" stroke-width="0.8" />
<line x1="425.7" y1="223.9" x2="425.7" y2="225.9" stroke="#333" stroke-width="0.8" />
<line x1="469" y1="223.9" x2="469" y2="221.9" stroke="#333" stroke-width="0.8" />
<line x1="469" y1="223.9" x2="469" y2="225.9" stroke="#333" stroke-width="0.8" />
<line x1="512.3" y1="223.9" x2="512.3" y2="221.9" stroke="#333" stroke-width="0.8" />
<line x1="512.3" y1="223.9" x2="512.3" y2="225.9" stroke="#333" stroke-width="0.8" />
<line x1="555.6" y1="223.9" x2="555.6" y2="221.9" stroke="#333" stroke-width="0.8" />
<line x1="555.6" y1="223.9" x2="555.6" y2="225.9" stroke="#333" stroke-width="0.8" />
<line x1="598.9" y1="223.9" x2="598.9" y2="221.9" stroke="#333" stroke-width="0.8" />
<line x1="598.9" y1="223.9" x2="598.9" y2="225.9" stroke="#333" stroke-width="0.8" />
<line x1="425.7" y1="265.3" x2="425.7" y2="263.3" stroke="#333" stroke-width="0.8" />
<line x1="469" y1="265.3" x2="469" y2="263.3" stroke="#333" stroke-width="0.8" />
<line x1="512.3" y1="265.3" x2="512.3" y2="263.3" stroke="#333" stroke-width="0.8" />
<line x1="555.6" y1="265.3" x2="555.6" y2="263.3" stroke="#333" stroke-width="0.8" />
<line x1="598.9" y1="265.3" x2="598.9" y2="263.3" stroke="#333" stroke-width="0.8" />
<line x1="382.4" y1="38.1" x2="384.4" y2="38.1" stroke="#333" stroke-width="0.8" />
<line x1="642.2" y1="38.1" x2="640.2" y2="38.1" stroke="#333" stroke-width="0.8" />
<line x1="382.4" y1="79.4" x2="384.4" y2="79.4" stroke="#333" stroke-width="0.8" />
<line x1="642.2" y1="79.4" x2="640.2" y2="79.4" stroke="#333" stroke-width="0.8" />
<line x1="382.4" y1="121.4" x2="384.4" y2="121.4" stroke="#333" stroke-width="0.8" />
<line x1="642.2" y1="121.4" x2="640.2" y2="121.4" stroke="#333" stroke-width="0.8" />
<line x1="382.4" y1="162.4" x2="384.4" y2="162.4" stroke="#333" stroke-width="0.8" />
<line x1="642.2" y1="162.4" x2="640.2" y2="162.4" stroke="#333" stroke-width="0.8" />
<line x1="382.4" y1="203.15" x2="384.4" y2="203.15" stroke="#333" stroke-width="0.8" />
<line x1="642.2" y1="203.15" x2="640.2" y2="203.15" stroke="#333" stroke-width="0.8" />
<line x1="382.4" y1="244.6" x2="384.4" y2="244.6" stroke="#333" stroke-width="0.8" />
<line x1="642.2" y1="244.6" x2="640.2" y2="244.6" stroke="#333" stroke-width="0.8" />
<text x="365.8" y="25" font-size="12.5" fill="#000" text-anchor="start" >(d)</text>
<text transform="translate(389.1,36.9) scale(1,1.0)" font-size="14.2">k</text><text x="395.4" y="30.7" font-size="9.7">con</text><text transform="translate(396.4,39.7) scale(1.0,1)" font-size="7.6">1</text>
<text transform="translate(388.7,80.3) scale(1,1.13)" font-size="14.2">k</text><text x="395.1" y="72" font-size="9.7">con</text><text transform="translate(395.4,82.7) scale(0.87,1)" font-size="10.2">3</text>
<text transform="translate(387.3,118.3) scale(1,1.0)" font-size="14.2">k</text><text x="393.8" y="110.4" font-size="9.7">con</text><text transform="translate(394.3,121.2) scale(1.0,1)" font-size="7.6">5</text>
<text transform="translate(388.3,178.2) scale(1,1.12)" font-size="14.2">k</text><text x="395.2" y="169.6" font-size="9.7">res</text><text transform="translate(395.9,182.2) scale(0.8,1)" font-size="11.0">1</text>
<text transform="translate(388,202.8) scale(1,1.12)" font-size="14.2">k</text><text x="394.6" y="194.1" font-size="9.7">res</text><text transform="translate(395,205.9) scale(0.87,1)" font-size="10.5">3</text>
<text transform="translate(390.1,241.6) scale(1,1.0)" font-size="14.2">k</text><text x="396" y="235.4" font-size="9.7">res</text><text transform="translate(396.7,244.3) scale(1.0,1)" font-size="8.2">5</text>
<text x="516.4" y="50.6" font-size="13.5" fill="#0000ff" text-anchor="middle" >TE</text>
<text x="595.7" y="35.9" font-size="13" fill="#ff0000" text-anchor="middle" >TM</text>
<line x1="525.9" y1="48.2" x2="532.22" y2="44.33" stroke="#0000ff" stroke-width="0.8" />
<polygon points="535.2,42.5 532.25,46.3 530.47,43.4" fill="#0000ff"/>
<line x1="583.9" y1="31.7" x2="572.3" y2="34.56" stroke="#ff0000" stroke-width="0.8" />
<polygon points="568.9,35.4 572.86,32.67 573.68,35.97" fill="#ff0000"/>
<text transform="translate(387.1,279.0) scale(0.86,1)" font-size="14.2" text-anchor="middle">-1.5</text>
<text transform="translate(425.8,279.0) scale(0.86,1)" font-size="14.2" text-anchor="middle">-1</text>
<text transform="translate(468.5,279.0) scale(0.86,1)" font-size="14.2" text-anchor="middle">-0.5</text>
<text transform="translate(512.4,279.0) scale(0.86,1)" font-size="14.2" text-anchor="middle">0</text>
<text transform="translate(550.7,279.0) scale(0.86,1)" font-size="14.2" text-anchor="middle">0.5</text>
<text transform="translate(599.8,279.0) scale(0.86,1)" font-size="14.2" text-anchor="middle">1</text>
<text transform="translate(638.1,279.0) scale(0.86,1)" font-size="14.2" text-anchor="middle">1.5</text>
<text transform="translate(512.5,292.0) scale(0.9,1)" font-size="15.4" text-anchor="middle" stroke="#000" stroke-width="0.25">X</text>
<text transform="translate(370.6,122) rotate(-90)" font-size="14.7" text-anchor="middle">|E|<tspan font-size="9.3" dy="-5.5">2</tspan><tspan dy="5.5"> [a.u.]</tspan></text>
</svg>
</body></html>
